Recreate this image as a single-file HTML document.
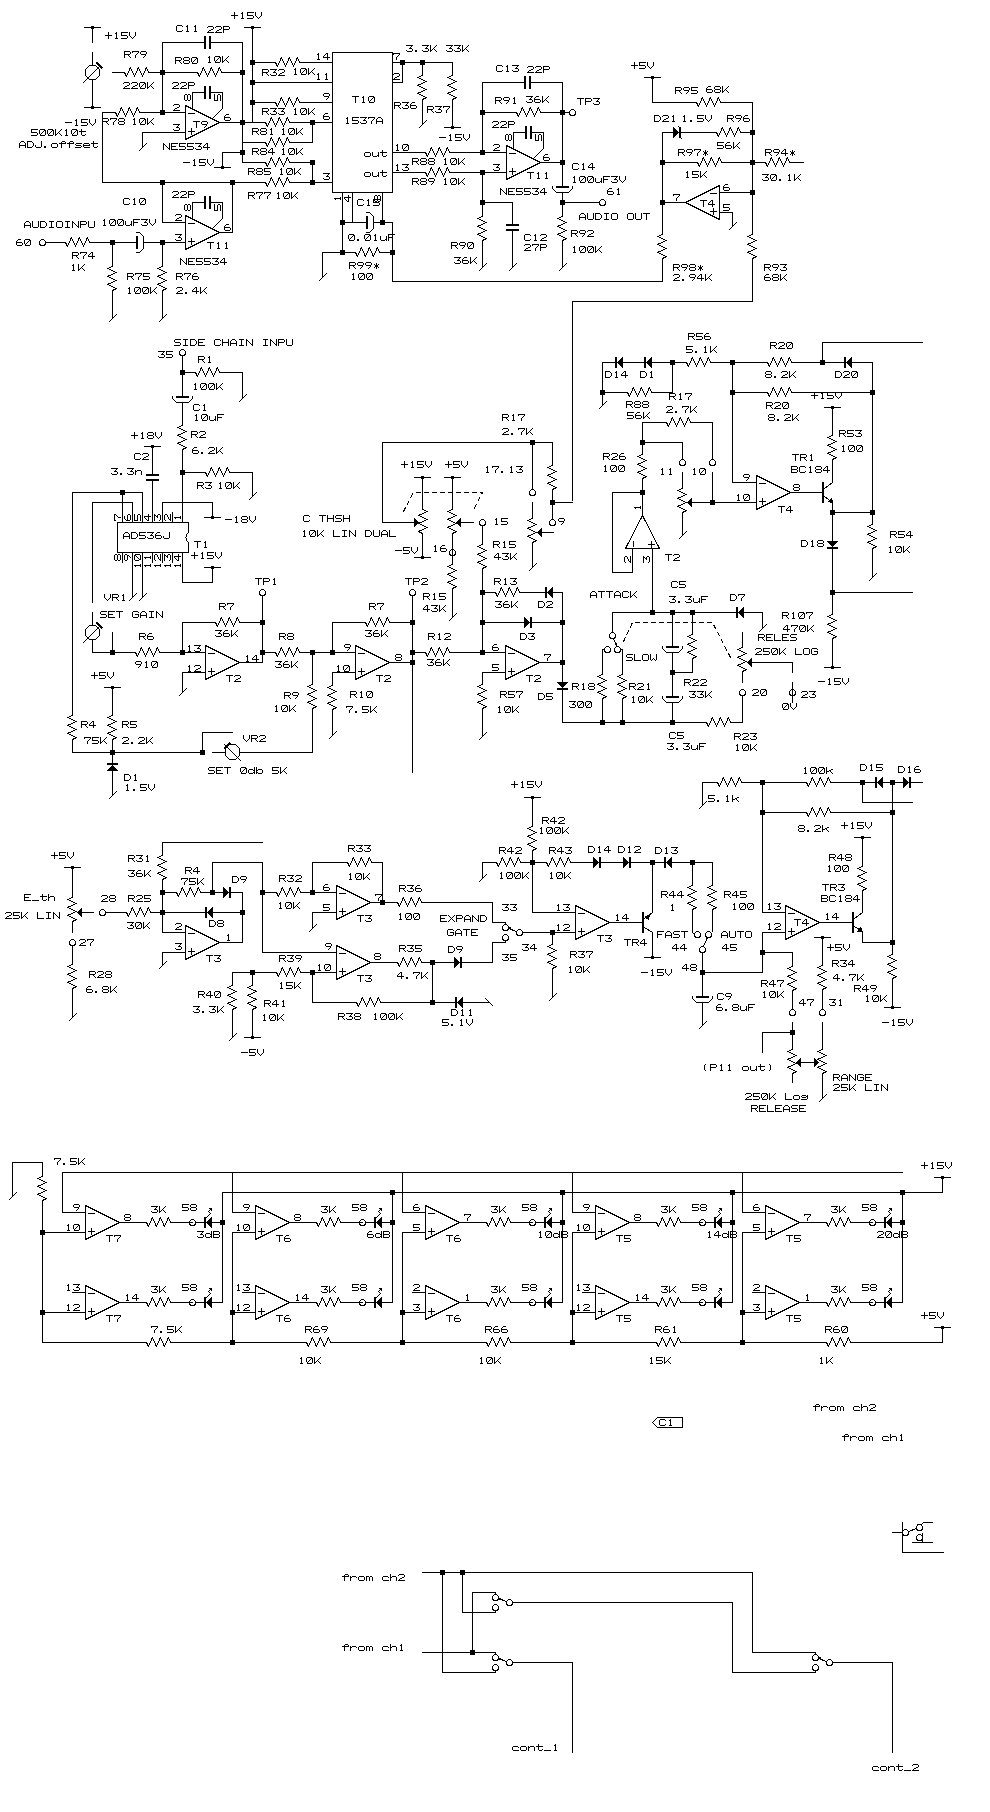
<!DOCTYPE html>
<html><head><meta charset="utf-8"><style>
html,body{margin:0;padding:0;background:#fff;}
svg{display:block;}
svg polyline,svg line,svg rect,svg polygon,svg circle,svg path{fill:none;stroke:#000;stroke-width:1;stroke-linecap:square;stroke-linejoin:round;}
svg .f,svg path.g,svg use{fill:#000;stroke:none;}
</style></head><body>
<svg width="990" height="1812" viewBox="0 0 990 1812" shape-rendering="crispEdges">
<defs><path class="g" id="g48" d="M1 0h5v1h-5zM0 1h1v1h-1zM5 1h2v1h-2zM0 2h1v1h-1zM4 2h1v1h-1zM6 2h1v1h-1zM0 3h1v1h-1zM3 3h1v1h-1zM6 3h1v1h-1zM0 4h1v1h-1zM2 4h1v1h-1zM6 4h1v1h-1zM1 5h1v1h-1zM6 5h1v1h-1zM1 6h5v1h-5z"/><path class="g" id="g49" d="M3 0h1v1h-1zM2 1h2v1h-2zM3 2h1v1h-1zM3 3h1v1h-1zM3 4h1v1h-1zM3 5h1v1h-1zM2 6h3v1h-3z"/><path class="g" id="g50" d="M1 0h5v1h-5zM0 1h1v1h-1zM6 1h1v1h-1zM6 2h1v1h-1zM4 3h2v1h-2zM2 4h2v1h-2zM1 5h1v1h-1zM0 6h7v1h-7z"/><path class="g" id="g51" d="M0 0h7v1h-7zM5 1h1v1h-1zM4 2h1v1h-1zM3 3h3v1h-3zM6 4h1v1h-1zM0 5h1v1h-1zM6 5h1v1h-1zM1 6h5v1h-5z"/><path class="g" id="g52" d="M3 0h2v1h-2zM2 1h1v1h-1zM4 1h1v1h-1zM1 2h1v1h-1zM4 2h1v1h-1zM0 3h1v1h-1zM4 3h1v1h-1zM0 4h7v1h-7zM4 5h1v1h-1zM4 6h1v1h-1z"/><path class="g" id="g53" d="M0 0h7v1h-7zM0 1h1v1h-1zM0 2h1v1h-1zM0 3h6v1h-6zM6 4h1v1h-1zM6 5h1v1h-1zM0 6h6v1h-6z"/><path class="g" id="g54" d="M2 0h3v1h-3zM1 1h1v1h-1zM0 2h1v1h-1zM0 3h6v1h-6zM0 4h1v1h-1zM6 4h1v1h-1zM0 5h1v1h-1zM6 5h1v1h-1zM1 6h5v1h-5z"/><path class="g" id="g55" d="M0 0h7v1h-7zM0 1h1v1h-1zM6 1h1v1h-1zM5 2h1v1h-1zM4 3h1v1h-1zM3 4h1v1h-1zM3 5h1v1h-1zM3 6h1v1h-1z"/><path class="g" id="g56" d="M1 0h5v1h-5zM0 1h1v1h-1zM6 1h1v1h-1zM0 2h1v1h-1zM6 2h1v1h-1zM1 3h5v1h-5zM0 4h1v1h-1zM6 4h1v1h-1zM0 5h1v1h-1zM6 5h1v1h-1zM1 6h5v1h-5z"/><path class="g" id="g57" d="M1 0h5v1h-5zM0 1h1v1h-1zM6 1h1v1h-1zM0 2h1v1h-1zM6 2h1v1h-1zM1 3h5v1h-5zM5 4h1v1h-1zM4 5h1v1h-1zM3 6h1v1h-1z"/><path class="g" id="g65" d="M2 0h3v1h-3zM1 1h1v1h-1zM5 1h1v1h-1zM0 2h1v1h-1zM6 2h1v1h-1zM0 3h1v1h-1zM6 3h1v1h-1zM0 4h7v1h-7zM0 5h1v1h-1zM6 5h1v1h-1zM0 6h1v1h-1zM6 6h1v1h-1z"/><path class="g" id="g66" d="M0 0h6v1h-6zM0 1h1v1h-1zM6 1h1v1h-1zM0 2h1v1h-1zM6 2h1v1h-1zM0 3h6v1h-6zM0 4h1v1h-1zM6 4h1v1h-1zM0 5h1v1h-1zM6 5h1v1h-1zM0 6h6v1h-6z"/><path class="g" id="g67" d="M1 0h5v1h-5zM0 1h1v1h-1zM6 1h1v1h-1zM0 2h1v1h-1zM0 3h1v1h-1zM0 4h1v1h-1zM0 5h1v1h-1zM6 5h1v1h-1zM1 6h5v1h-5z"/><path class="g" id="g68" d="M0 0h5v1h-5zM0 1h1v1h-1zM5 1h1v1h-1zM0 2h1v1h-1zM6 2h1v1h-1zM0 3h1v1h-1zM6 3h1v1h-1zM0 4h1v1h-1zM6 4h1v1h-1zM0 5h1v1h-1zM5 5h1v1h-1zM0 6h5v1h-5z"/><path class="g" id="g69" d="M0 0h7v1h-7zM0 1h1v1h-1zM0 2h1v1h-1zM0 3h5v1h-5zM0 4h1v1h-1zM0 5h1v1h-1zM0 6h7v1h-7z"/><path class="g" id="g70" d="M0 0h7v1h-7zM0 1h1v1h-1zM0 2h1v1h-1zM0 3h5v1h-5zM0 4h1v1h-1zM0 5h1v1h-1zM0 6h1v1h-1z"/><path class="g" id="g71" d="M1 0h5v1h-5zM0 1h1v1h-1zM6 1h1v1h-1zM0 2h1v1h-1zM0 3h1v1h-1zM3 3h4v1h-4zM0 4h1v1h-1zM6 4h1v1h-1zM0 5h1v1h-1zM6 5h1v1h-1zM1 6h5v1h-5z"/><path class="g" id="g72" d="M0 0h1v1h-1zM6 0h1v1h-1zM0 1h1v1h-1zM6 1h1v1h-1zM0 2h1v1h-1zM6 2h1v1h-1zM0 3h7v1h-7zM0 4h1v1h-1zM6 4h1v1h-1zM0 5h1v1h-1zM6 5h1v1h-1zM0 6h1v1h-1zM6 6h1v1h-1z"/><path class="g" id="g73" d="M1 0h5v1h-5zM3 1h1v1h-1zM3 2h1v1h-1zM3 3h1v1h-1zM3 4h1v1h-1zM3 5h1v1h-1zM1 6h5v1h-5z"/><path class="g" id="g74" d="M6 0h1v1h-1zM6 1h1v1h-1zM6 2h1v1h-1zM6 3h1v1h-1zM0 4h1v1h-1zM6 4h1v1h-1zM0 5h1v1h-1zM6 5h1v1h-1zM1 6h5v1h-5z"/><path class="g" id="g75" d="M0 0h1v1h-1zM6 0h1v1h-1zM0 1h1v1h-1zM5 1h1v1h-1zM0 2h1v1h-1zM4 2h1v1h-1zM0 3h1v1h-1zM3 3h1v1h-1zM0 4h1v1h-1zM2 4h1v1h-1zM4 4h1v1h-1zM0 5h2v1h-2zM5 5h1v1h-1zM0 6h1v1h-1zM6 6h1v1h-1z"/><path class="g" id="g76" d="M0 0h1v1h-1zM0 1h1v1h-1zM0 2h1v1h-1zM0 3h1v1h-1zM0 4h1v1h-1zM0 5h1v1h-1zM0 6h7v1h-7z"/><path class="g" id="g77" d="M0 0h1v1h-1zM6 0h1v1h-1zM0 1h2v1h-2zM5 1h2v1h-2zM0 2h1v1h-1zM2 2h1v1h-1zM4 2h1v1h-1zM6 2h1v1h-1zM0 3h1v1h-1zM3 3h1v1h-1zM6 3h1v1h-1zM0 4h1v1h-1zM6 4h1v1h-1zM0 5h1v1h-1zM6 5h1v1h-1zM0 6h1v1h-1zM6 6h1v1h-1z"/><path class="g" id="g78" d="M0 0h1v1h-1zM6 0h1v1h-1zM0 1h2v1h-2zM6 1h1v1h-1zM0 2h1v1h-1zM2 2h1v1h-1zM6 2h1v1h-1zM0 3h1v1h-1zM3 3h1v1h-1zM6 3h1v1h-1zM0 4h1v1h-1zM4 4h1v1h-1zM6 4h1v1h-1zM0 5h1v1h-1zM5 5h2v1h-2zM0 6h1v1h-1zM6 6h1v1h-1z"/><path class="g" id="g79" d="M1 0h5v1h-5zM0 1h1v1h-1zM6 1h1v1h-1zM0 2h1v1h-1zM6 2h1v1h-1zM0 3h1v1h-1zM6 3h1v1h-1zM0 4h1v1h-1zM6 4h1v1h-1zM0 5h1v1h-1zM6 5h1v1h-1zM1 6h5v1h-5z"/><path class="g" id="g80" d="M0 0h6v1h-6zM0 1h1v1h-1zM6 1h1v1h-1zM0 2h1v1h-1zM6 2h1v1h-1zM0 3h6v1h-6zM0 4h1v1h-1zM0 5h1v1h-1zM0 6h1v1h-1z"/><path class="g" id="g82" d="M0 0h6v1h-6zM0 1h1v1h-1zM6 1h1v1h-1zM0 2h1v1h-1zM6 2h1v1h-1zM0 3h6v1h-6zM0 4h1v1h-1zM4 4h1v1h-1zM0 5h1v1h-1zM5 5h1v1h-1zM0 6h1v1h-1zM6 6h1v1h-1z"/><path class="g" id="g83" d="M1 0h6v1h-6zM0 1h1v1h-1zM0 2h1v1h-1zM1 3h5v1h-5zM6 4h1v1h-1zM6 5h1v1h-1zM0 6h6v1h-6z"/><path class="g" id="g84" d="M0 0h7v1h-7zM3 1h1v1h-1zM3 2h1v1h-1zM3 3h1v1h-1zM3 4h1v1h-1zM3 5h1v1h-1zM3 6h1v1h-1z"/><path class="g" id="g85" d="M0 0h1v1h-1zM6 0h1v1h-1zM0 1h1v1h-1zM6 1h1v1h-1zM0 2h1v1h-1zM6 2h1v1h-1zM0 3h1v1h-1zM6 3h1v1h-1zM0 4h1v1h-1zM6 4h1v1h-1zM0 5h1v1h-1zM6 5h1v1h-1zM1 6h5v1h-5z"/><path class="g" id="g86" d="M0 0h1v1h-1zM6 0h1v1h-1zM0 1h1v1h-1zM6 1h1v1h-1zM0 2h1v1h-1zM6 2h1v1h-1zM0 3h1v1h-1zM6 3h1v1h-1zM1 4h1v1h-1zM5 4h1v1h-1zM2 5h1v1h-1zM4 5h1v1h-1zM3 6h1v1h-1z"/><path class="g" id="g87" d="M0 0h1v1h-1zM6 0h1v1h-1zM0 1h1v1h-1zM6 1h1v1h-1zM0 2h1v1h-1zM6 2h1v1h-1zM0 3h1v1h-1zM6 3h1v1h-1zM0 4h1v1h-1zM3 4h1v1h-1zM6 4h1v1h-1zM0 5h1v1h-1zM2 5h1v1h-1zM4 5h1v1h-1zM6 5h1v1h-1zM1 6h1v1h-1zM5 6h1v1h-1z"/><path class="g" id="g88" d="M0 0h1v1h-1zM6 0h1v1h-1zM1 1h1v1h-1zM5 1h1v1h-1zM2 2h1v1h-1zM4 2h1v1h-1zM3 3h1v1h-1zM2 4h1v1h-1zM4 4h1v1h-1zM1 5h1v1h-1zM5 5h1v1h-1zM0 6h1v1h-1zM6 6h1v1h-1z"/><path class="g" id="g43" d="M3 0h1v1h-1zM3 1h1v1h-1zM3 2h1v1h-1zM0 3h7v1h-7zM3 4h1v1h-1zM3 5h1v1h-1zM3 6h1v1h-1z"/><path class="g" id="g45" d="M0 3h7v1h-7z"/><path class="g" id="g46" d="M1 5h2v1h-2zM1 6h2v1h-2z"/><path class="g" id="g42" d="M3 1h1v1h-1zM1 2h1v1h-1zM3 2h1v1h-1zM5 2h1v1h-1zM2 3h3v1h-3zM2 4h3v1h-3zM1 5h1v1h-1zM3 5h1v1h-1zM5 5h1v1h-1zM3 6h1v1h-1z"/><path class="g" id="g95" d="M0 6h7v1h-7z"/><path class="g" id="g40" d="M3 0h1v1h-1zM2 1h1v1h-1zM2 2h1v1h-1zM2 3h1v1h-1zM2 4h1v1h-1zM2 5h1v1h-1zM3 6h1v1h-1z"/><path class="g" id="g41" d="M3 0h1v1h-1zM4 1h1v1h-1zM4 2h1v1h-1zM4 3h1v1h-1zM4 4h1v1h-1zM4 5h1v1h-1zM3 6h1v1h-1z"/><path class="g" id="g98" d="M0 0h1v1h-1zM0 1h1v1h-1zM0 2h1v1h-1zM2 2h4v1h-4zM0 3h2v1h-2zM6 3h1v1h-1zM0 4h1v1h-1zM6 4h1v1h-1zM0 5h2v1h-2zM6 5h1v1h-1zM0 6h1v1h-1zM2 6h4v1h-4z"/><path class="g" id="g99" d="M1 2h5v1h-5zM0 3h1v1h-1zM6 3h1v1h-1zM0 4h1v1h-1zM0 5h1v1h-1zM1 6h6v1h-6z"/><path class="g" id="g100" d="M6 0h1v1h-1zM6 1h1v1h-1zM1 2h4v1h-4zM6 2h1v1h-1zM0 3h1v1h-1zM5 3h2v1h-2zM0 4h1v1h-1zM6 4h1v1h-1zM0 5h1v1h-1zM5 5h2v1h-2zM1 6h4v1h-4zM6 6h1v1h-1z"/><path class="g" id="g101" d="M1 2h5v1h-5zM0 3h1v1h-1zM6 3h1v1h-1zM0 4h7v1h-7zM0 5h1v1h-1zM1 6h6v1h-6z"/><path class="g" id="g102" d="M3 0h3v1h-3zM2 1h1v1h-1zM6 1h1v1h-1zM0 2h7v1h-7zM2 3h1v1h-1zM2 4h1v1h-1zM2 5h1v1h-1zM2 6h1v1h-1z"/><path class="g" id="g103" d="M1 2h4v1h-4zM6 2h1v1h-1zM0 3h1v1h-1zM5 3h2v1h-2zM1 4h4v1h-4zM6 4h1v1h-1zM6 5h1v1h-1zM0 6h6v1h-6z"/><path class="g" id="g104" d="M0 0h1v1h-1zM0 1h1v1h-1zM0 2h1v1h-1zM2 2h4v1h-4zM0 3h2v1h-2zM6 3h1v1h-1zM0 4h1v1h-1zM6 4h1v1h-1zM0 5h1v1h-1zM6 5h1v1h-1zM0 6h1v1h-1zM6 6h1v1h-1z"/><path class="g" id="g107" d="M0 0h1v1h-1zM0 1h1v1h-1zM0 2h1v1h-1zM5 2h2v1h-2zM0 3h1v1h-1zM3 3h2v1h-2zM0 4h3v1h-3zM4 4h1v1h-1zM0 5h1v1h-1zM5 5h1v1h-1zM0 6h1v1h-1zM6 6h1v1h-1z"/><path class="g" id="g109" d="M0 2h3v1h-3zM4 2h2v1h-2zM0 3h1v1h-1zM3 3h1v1h-1zM6 3h1v1h-1zM0 4h1v1h-1zM3 4h1v1h-1zM6 4h1v1h-1zM0 5h1v1h-1zM3 5h1v1h-1zM6 5h1v1h-1zM0 6h1v1h-1zM3 6h1v1h-1zM6 6h1v1h-1z"/><path class="g" id="g110" d="M0 2h1v1h-1zM2 2h4v1h-4zM0 3h2v1h-2zM6 3h1v1h-1zM0 4h1v1h-1zM6 4h1v1h-1zM0 5h1v1h-1zM6 5h1v1h-1zM0 6h1v1h-1zM6 6h1v1h-1z"/><path class="g" id="g111" d="M1 2h5v1h-5zM0 3h1v1h-1zM6 3h1v1h-1zM0 4h1v1h-1zM6 4h1v1h-1zM0 5h1v1h-1zM6 5h1v1h-1zM1 6h5v1h-5z"/><path class="g" id="g114" d="M0 2h1v1h-1zM2 2h4v1h-4zM0 3h2v1h-2zM6 3h1v1h-1zM0 4h1v1h-1zM0 5h1v1h-1zM0 6h1v1h-1z"/><path class="g" id="g115" d="M1 2h6v1h-6zM0 3h1v1h-1zM1 4h5v1h-5zM6 5h1v1h-1zM0 6h6v1h-6z"/><path class="g" id="g116" d="M2 0h1v1h-1zM2 1h1v1h-1zM0 2h7v1h-7zM2 3h1v1h-1zM2 4h1v1h-1zM2 5h1v1h-1zM6 5h1v1h-1zM3 6h3v1h-3z"/><path class="g" id="g117" d="M0 2h1v1h-1zM6 2h1v1h-1zM0 3h1v1h-1zM6 3h1v1h-1zM0 4h1v1h-1zM6 4h1v1h-1zM0 5h1v1h-1zM5 5h2v1h-2zM1 6h4v1h-4zM6 6h1v1h-1z"/></defs>
<polyline points="84.5,27.5 100.5,27.5"/>
<circle class="f" cx="92.5" cy="27.5" r="1.8"/>
<polyline points="92.5,27.5 92.5,42.5"/>
<polyline points="92.5,52.5 92.5,65.5"/>
<polygon points="89.5,65.5 95.5,65.5 99.5,69.5 99.5,75.5 95.5,79.5 89.5,79.5 85.5,75.5 85.5,69.5"/>
<line x1="83.5" y1="82.5" x2="98.5" y2="67.5"/>
<polygon class="f" points="95.5,63 97,61.5 103,67.5 101.5,69"/>
<polyline points="92.5,79.5 92.5,107.5"/>
<polyline points="84.5,107.5 100.5,107.5"/>
<circle class="f" cx="92.5" cy="107.5" r="1.8"/>
<use href="#g43" x="105" y="32"/><use href="#g49" x="113" y="32"/><use href="#g53" x="121" y="32"/><use href="#g86" x="129" y="32"/>
<polyline points="112.5,72.5 124.5,72.5"/>
<polyline points="124.5,72.5 126.5,76.5 130.5,67.5 134.5,76.5 138.5,67.5 142.5,76.5 146.5,67.5 148.5,72.5"/>
<polyline points="148.5,72.5 162.5,72.5"/>
<use href="#g82" x="124" y="51"/><use href="#g55" x="132" y="51"/><use href="#g57" x="140" y="51"/>
<use href="#g50" x="123" y="82"/><use href="#g50" x="131" y="82"/><use href="#g48" x="139" y="82"/><use href="#g75" x="147" y="82"/>
<rect class="f" x="160" y="70" width="5" height="5"/>
<polyline points="162.5,42.5 162.5,112.5"/>
<polyline points="162.5,42.5 204.5,42.5"/>
<rect class="f" x="204" y="36" width="2" height="13"/>
<rect class="f" x="209" y="36" width="2" height="13"/>
<polyline points="211.5,42.5 242.5,42.5 242.5,152.5"/>
<use href="#g67" x="176" y="25"/><use href="#g49" x="184" y="25"/><use href="#g49" x="192" y="25"/>
<use href="#g50" x="207" y="26"/><use href="#g50" x="215" y="26"/><use href="#g80" x="223" y="26"/>
<polyline points="162.5,72.5 197.5,72.5"/>
<polyline points="197.5,72.5 199.5,76.5 203.5,67.5 207.5,76.5 211.5,67.5 215.5,76.5 219.5,67.5 221.5,72.5"/>
<polyline points="221.5,72.5 242.5,72.5"/>
<use href="#g82" x="175" y="57"/><use href="#g56" x="183" y="57"/><use href="#g48" x="191" y="57"/>
<use href="#g49" x="206" y="56"/><use href="#g48" x="214" y="56"/><use href="#g75" x="222" y="56"/>
<rect class="f" x="240" y="70" width="5" height="5"/>
<rect class="f" x="240" y="120" width="5" height="5"/>
<rect class="f" x="240" y="150" width="5" height="5"/>
<use href="#g50" x="172" y="82"/><use href="#g50" x="180" y="82"/><use href="#g80" x="188" y="82"/>
<polyline points="192.5,108.5 192.5,92.5 204.5,92.5"/>
<rect class="f" x="204" y="86" width="2" height="13"/>
<rect class="f" x="209" y="86" width="2" height="13"/>
<polyline points="211.5,92.5 222.5,92.5 222.5,108.5 212.5,118.5"/>
<g transform="translate(191,101) rotate(-90)"><use href="#g56" x="0" y="-7"/></g>
<g transform="translate(221,101) rotate(-90)"><use href="#g53" x="0" y="-7"/></g>
<polyline points="185.5,105.5 185.5,139.5 219.5,122.5 185.5,105.5"/>
<polyline points="188.5,113.5 194.5,113.5"/>
<polyline points="188.5,131.5 194.5,131.5"/>
<polyline points="191.5,128.5 191.5,134.5"/>
<use href="#g50" x="173" y="104"/>
<use href="#g51" x="173" y="124"/>
<use href="#g54" x="224" y="114"/>
<use href="#g84" x="193" y="121"/><use href="#g57" x="201" y="121"/>
<use href="#g78" x="163" y="143"/><use href="#g69" x="171" y="143"/><use href="#g53" x="179" y="143"/><use href="#g53" x="187" y="143"/><use href="#g51" x="195" y="143"/><use href="#g52" x="203" y="143"/>
<polyline points="219.5,122.5 242.5,122.5"/>
<polyline points="102.5,112.5 115.5,112.5"/>
<polyline points="115.5,112.5 117.5,116.5 121.5,107.5 125.5,116.5 129.5,107.5 133.5,116.5 137.5,107.5 139.5,112.5"/>
<polyline points="139.5,112.5 185.5,112.5"/>
<rect class="f" x="160" y="110" width="5" height="5"/>
<polyline points="102.5,112.5 102.5,182.5"/>
<use href="#g45" x="65" y="119"/><use href="#g49" x="73" y="119"/><use href="#g53" x="81" y="119"/><use href="#g86" x="89" y="119"/>
<use href="#g82" x="102" y="118"/><use href="#g55" x="110" y="118"/><use href="#g56" x="118" y="118"/>
<use href="#g49" x="131" y="118"/><use href="#g48" x="139" y="118"/><use href="#g75" x="147" y="118"/>
<use href="#g53" x="31" y="129"/><use href="#g48" x="39" y="129"/><use href="#g48" x="47" y="129"/><use href="#g75" x="55" y="129"/><use href="#g49" x="63" y="129"/><use href="#g48" x="71" y="129"/><use href="#g116" x="79" y="129"/>
<use href="#g65" x="19" y="141"/><use href="#g68" x="27" y="141"/><use href="#g74" x="35" y="141"/><use href="#g46" x="43" y="141"/><use href="#g111" x="51" y="141"/><use href="#g102" x="59" y="141"/><use href="#g102" x="67" y="141"/><use href="#g115" x="75" y="141"/><use href="#g101" x="83" y="141"/><use href="#g116" x="91" y="141"/>
<polyline points="185.5,132.5 142.5,132.5 142.5,147.5"/>
<line x1="139.0" y1="151.0" x2="146.5" y2="143.5"/>
<use href="#g43" x="231" y="12"/><use href="#g49" x="239" y="12"/><use href="#g53" x="247" y="12"/><use href="#g86" x="255" y="12"/>
<polyline points="244.5,27.5 260.5,27.5"/>
<circle class="f" cx="252.5" cy="27.5" r="1.8"/>
<polyline points="252.5,27.5 252.5,122.5"/>
<rect class="f" x="250" y="60" width="5" height="5"/>
<rect class="f" x="250" y="80" width="5" height="5"/>
<rect class="f" x="250" y="100" width="5" height="5"/>
<polyline points="252.5,62.5 275.5,62.5"/>
<polyline points="275.5,62.5 277.5,66.5 281.5,57.5 285.5,66.5 289.5,57.5 293.5,66.5 297.5,57.5 299.5,62.5"/>
<polyline points="299.5,62.5 332.5,62.5"/>
<use href="#g82" x="262" y="69"/><use href="#g51" x="270" y="69"/><use href="#g50" x="278" y="69"/>
<use href="#g49" x="292" y="68"/><use href="#g48" x="300" y="68"/><use href="#g75" x="308" y="68"/>
<use href="#g49" x="315" y="53"/><use href="#g52" x="323" y="53"/>
<polyline points="252.5,82.5 332.5,82.5"/>
<use href="#g49" x="315" y="73"/><use href="#g49" x="323" y="73"/>
<polyline points="252.5,102.5 275.5,102.5"/>
<polyline points="275.5,102.5 277.5,106.5 281.5,97.5 285.5,106.5 289.5,97.5 293.5,106.5 297.5,97.5 299.5,102.5"/>
<polyline points="299.5,102.5 332.5,102.5"/>
<use href="#g82" x="262" y="108"/><use href="#g51" x="270" y="108"/><use href="#g51" x="278" y="108"/>
<use href="#g49" x="292" y="108"/><use href="#g48" x="300" y="108"/><use href="#g75" x="308" y="108"/>
<use href="#g57" x="323" y="93"/>
<polyline points="242.5,122.5 265.5,122.5"/>
<polyline points="265.5,122.5 267.5,126.5 271.5,117.5 275.5,126.5 279.5,117.5 283.5,126.5 287.5,117.5 289.5,122.5"/>
<polyline points="289.5,122.5 332.5,122.5"/>
<rect class="f" x="310" y="120" width="5" height="5"/>
<use href="#g54" x="323" y="113"/>
<use href="#g82" x="252" y="128"/><use href="#g56" x="260" y="128"/><use href="#g49" x="268" y="128"/>
<use href="#g49" x="280" y="128"/><use href="#g48" x="288" y="128"/><use href="#g75" x="296" y="128"/>
<polyline points="312.5,122.5 312.5,142.5"/>
<polyline points="242.5,142.5 265.5,142.5"/>
<polyline points="265.5,142.5 267.5,146.5 271.5,137.5 275.5,146.5 279.5,137.5 283.5,146.5 287.5,137.5 289.5,142.5"/>
<polyline points="289.5,142.5 312.5,142.5"/>
<polyline points="242.5,142.5 242.5,162.5"/>
<polyline points="242.5,162.5 265.5,162.5"/>
<polyline points="265.5,162.5 267.5,166.5 271.5,157.5 275.5,166.5 279.5,157.5 283.5,166.5 287.5,157.5 289.5,162.5"/>
<polyline points="289.5,162.5 312.5,162.5"/>
<rect class="f" x="240" y="150" width="5" height="5"/>
<rect class="f" x="310" y="160" width="5" height="5"/>
<polyline points="312.5,162.5 312.5,182.5"/>
<rect class="f" x="310" y="180" width="5" height="5"/>
<polyline points="242.5,152.5 222.5,152.5 222.5,167.5"/>
<polyline points="214.5,167.5 230.5,167.5"/>
<circle class="f" cx="222.5" cy="167.5" r="1.8"/>
<use href="#g45" x="183" y="159"/><use href="#g49" x="191" y="159"/><use href="#g53" x="199" y="159"/><use href="#g86" x="207" y="159"/>
<use href="#g82" x="252" y="148"/><use href="#g56" x="260" y="148"/><use href="#g52" x="268" y="148"/>
<use href="#g49" x="280" y="148"/><use href="#g48" x="288" y="148"/><use href="#g75" x="296" y="148"/>
<use href="#g82" x="248" y="168"/><use href="#g56" x="256" y="168"/><use href="#g53" x="264" y="168"/>
<use href="#g49" x="278" y="168"/><use href="#g48" x="286" y="168"/><use href="#g75" x="294" y="168"/>
<polyline points="102.5,182.5 265.5,182.5"/>
<polyline points="265.5,182.5 267.5,186.5 271.5,177.5 275.5,186.5 279.5,177.5 283.5,186.5 287.5,177.5 289.5,182.5"/>
<polyline points="289.5,182.5 332.5,182.5"/>
<rect class="f" x="160" y="180" width="5" height="5"/>
<rect class="f" x="230" y="180" width="5" height="5"/>
<use href="#g51" x="323" y="173"/>
<use href="#g82" x="248" y="192"/><use href="#g55" x="256" y="192"/><use href="#g55" x="264" y="192"/>
<use href="#g49" x="275" y="192"/><use href="#g48" x="283" y="192"/><use href="#g75" x="291" y="192"/>
<rect x="332.5" y="52.5" width="60" height="140"/>
<use href="#g84" x="352" y="96"/><use href="#g49" x="360" y="96"/><use href="#g48" x="368" y="96"/>
<use href="#g49" x="344" y="117"/><use href="#g53" x="352" y="117"/><use href="#g51" x="360" y="117"/><use href="#g55" x="368" y="117"/><use href="#g65" x="376" y="117"/>
<use href="#g111" x="364" y="150"/><use href="#g117" x="372" y="150"/><use href="#g116" x="380" y="150"/>
<use href="#g111" x="364" y="170"/><use href="#g117" x="372" y="170"/><use href="#g116" x="380" y="170"/>
<use href="#g55" x="393" y="53"/>
<use href="#g50" x="393" y="73"/>
<use href="#g49" x="394" y="144"/><use href="#g48" x="402" y="144"/>
<use href="#g49" x="394" y="164"/><use href="#g51" x="402" y="164"/>
<polyline points="392.5,62.5 452.5,62.5"/>
<rect class="f" x="400" y="60" width="5" height="5"/>
<rect class="f" x="420" y="60" width="5" height="5"/>
<polyline points="392.5,82.5 402.5,82.5 402.5,62.5"/>
<polyline points="422.5,62.5 422.5,75.5"/>
<polyline points="422.5,75.5 417.5,77.5 426.5,81.5 417.5,85.5 426.5,89.5 417.5,93.5 426.5,97.5 422.5,99.5"/>
<polyline points="422.5,99.5 422.5,124.5"/>
<line x1="419.0" y1="128.0" x2="426.5" y2="120.5"/>
<polyline points="452.5,62.5 452.5,75.5"/>
<polyline points="452.5,75.5 447.5,77.5 456.5,81.5 447.5,85.5 456.5,89.5 447.5,93.5 456.5,97.5 452.5,99.5"/>
<polyline points="452.5,99.5 452.5,127.5"/>
<polyline points="444.5,127.5 460.5,127.5"/>
<circle class="f" cx="452.5" cy="127.5" r="1.8"/>
<use href="#g82" x="394" y="102"/><use href="#g51" x="402" y="102"/><use href="#g54" x="410" y="102"/>
<use href="#g82" x="427" y="106"/><use href="#g51" x="435" y="106"/><use href="#g55" x="443" y="106"/>
<use href="#g51" x="406" y="45"/><use href="#g46" x="414" y="45"/><use href="#g51" x="422" y="45"/><use href="#g75" x="430" y="45"/><use href="#g51" x="446" y="45"/><use href="#g51" x="454" y="45"/><use href="#g75" x="462" y="45"/>
<use href="#g45" x="439" y="134"/><use href="#g49" x="447" y="134"/><use href="#g53" x="455" y="134"/><use href="#g86" x="463" y="134"/>
<polyline points="392.5,152.5 425.5,152.5"/>
<polyline points="425.5,152.5 427.5,156.5 431.5,147.5 435.5,156.5 439.5,147.5 443.5,156.5 447.5,147.5 449.5,152.5"/>
<polyline points="449.5,152.5 506.5,152.5"/>
<rect class="f" x="480" y="150" width="5" height="5"/>
<use href="#g82" x="412" y="158"/><use href="#g56" x="420" y="158"/><use href="#g56" x="428" y="158"/>
<use href="#g49" x="442" y="158"/><use href="#g48" x="450" y="158"/><use href="#g75" x="458" y="158"/>
<polyline points="392.5,172.5 425.5,172.5"/>
<polyline points="425.5,172.5 427.5,176.5 431.5,167.5 435.5,176.5 439.5,167.5 443.5,176.5 447.5,167.5 449.5,172.5"/>
<polyline points="449.5,172.5 506.5,172.5"/>
<rect class="f" x="480" y="170" width="5" height="5"/>
<use href="#g82" x="412" y="178"/><use href="#g56" x="420" y="178"/><use href="#g57" x="428" y="178"/>
<use href="#g49" x="442" y="178"/><use href="#g48" x="450" y="178"/><use href="#g75" x="458" y="178"/>
<polyline points="342.5,192.5 342.5,252.5"/>
<polyline points="352.5,192.5 352.5,222.5"/>
<polyline points="382.5,192.5 382.5,222.5"/>
<g transform="translate(341,202) rotate(-90)"><use href="#g49" x="0" y="-7"/></g>
<g transform="translate(351,202) rotate(-90)"><use href="#g52" x="0" y="-7"/></g>
<g transform="translate(381,202) rotate(-90)"><use href="#g56" x="0" y="-7"/></g>
<polyline points="342.5,222.5 366.5,222.5"/>
<rect class="f" x="340" y="220" width="5" height="5"/>
<rect class="f" x="366" y="216" width="2" height="13"/>
<polyline points="366.5,212.5 369.5,212.5 373.5,216.5 373.5,228.5 369.5,232.5 366.5,232.5"/>
<polyline points="373.5,222.5 392.5,222.5"/>
<rect class="f" x="380" y="220" width="5" height="5"/>
<polyline points="392.5,222.5 392.5,281.5 662.5,281.5"/>
<rect class="f" x="390" y="250" width="5" height="5"/>
<polyline points="342.5,252.5 355.5,252.5"/>
<polyline points="355.5,252.5 357.5,256.5 361.5,247.5 365.5,256.5 369.5,247.5 373.5,256.5 377.5,247.5 379.5,252.5"/>
<polyline points="379.5,252.5 392.5,252.5"/>
<rect class="f" x="340" y="250" width="5" height="5"/>
<polyline points="342.5,252.5 322.5,252.5 322.5,277.5"/>
<line x1="319.0" y1="281.0" x2="326.5" y2="273.5"/>
<use href="#g67" x="357" y="199"/><use href="#g49" x="365" y="199"/><use href="#g53" x="373" y="199"/>
<use href="#g48" x="348" y="234"/><use href="#g46" x="356" y="234"/><use href="#g48" x="364" y="234"/><use href="#g49" x="372" y="234"/><use href="#g117" x="380" y="234"/><use href="#g70" x="388" y="234"/>
<use href="#g82" x="349" y="262"/><use href="#g57" x="357" y="262"/><use href="#g57" x="365" y="262"/><use href="#g42" x="373" y="262"/>
<use href="#g49" x="350" y="273"/><use href="#g48" x="358" y="273"/><use href="#g48" x="366" y="273"/>
<polyline points="513.5,148.5 513.5,132.5 525.5,132.5"/>
<rect class="f" x="525" y="126" width="2" height="13"/>
<rect class="f" x="530" y="126" width="2" height="13"/>
<polyline points="532.5,132.5 543.5,132.5 543.5,148.5 533.5,158.5"/>
<g transform="translate(512,141) rotate(-90)"><use href="#g56" x="0" y="-7"/></g>
<g transform="translate(542,141) rotate(-90)"><use href="#g53" x="0" y="-7"/></g>
<polyline points="506.5,145.5 506.5,179.5 540.5,162.5 506.5,145.5"/>
<polyline points="509.5,153.5 515.5,153.5"/>
<polyline points="509.5,171.5 515.5,171.5"/>
<polyline points="512.5,168.5 512.5,174.5"/>
<use href="#g50" x="493" y="144"/>
<use href="#g51" x="493" y="164"/>
<use href="#g54" x="543" y="154"/>
<use href="#g84" x="527" y="172"/><use href="#g49" x="535" y="172"/><use href="#g49" x="543" y="172"/>
<use href="#g78" x="500" y="188"/><use href="#g69" x="508" y="188"/><use href="#g53" x="516" y="188"/><use href="#g53" x="524" y="188"/><use href="#g51" x="532" y="188"/><use href="#g52" x="540" y="188"/>
<polyline points="539.5,162.5 562.5,162.5"/>
<rect class="f" x="560" y="160" width="5" height="5"/>
<polyline points="482.5,112.5 482.5,82.5 524.5,82.5"/>
<rect class="f" x="524" y="76" width="2" height="13"/>
<rect class="f" x="529" y="76" width="2" height="13"/>
<polyline points="531.5,82.5 562.5,82.5 562.5,186.5"/>
<use href="#g67" x="496" y="65"/><use href="#g49" x="504" y="65"/><use href="#g51" x="512" y="65"/>
<use href="#g50" x="527" y="66"/><use href="#g50" x="535" y="66"/><use href="#g80" x="543" y="66"/>
<polyline points="482.5,112.5 516.5,112.5"/>
<polyline points="516.5,112.5 518.5,116.5 522.5,107.5 526.5,116.5 530.5,107.5 534.5,116.5 538.5,107.5 540.5,112.5"/>
<polyline points="540.5,112.5 562.5,112.5"/>
<rect class="f" x="480" y="110" width="5" height="5"/>
<rect class="f" x="560" y="110" width="5" height="5"/>
<polyline points="562.5,112.5 569.5,112.5"/>
<circle cx="572.5" cy="112.5" r="3"/>
<use href="#g82" x="495" y="97"/><use href="#g57" x="503" y="97"/><use href="#g49" x="511" y="97"/>
<use href="#g51" x="526" y="96"/><use href="#g54" x="534" y="96"/><use href="#g75" x="542" y="96"/>
<use href="#g84" x="577" y="98"/><use href="#g80" x="585" y="98"/><use href="#g51" x="593" y="98"/>
<use href="#g50" x="492" y="121"/><use href="#g50" x="500" y="121"/><use href="#g80" x="508" y="121"/>
<polyline points="482.5,112.5 482.5,152.5"/>
<polyline points="482.5,172.5 482.5,202.5"/>
<polyline points="482.5,202.5 482.5,216.5"/>
<polyline points="482.5,216.5 477.5,218.5 486.5,222.5 477.5,226.5 486.5,230.5 477.5,234.5 486.5,238.5 482.5,240.5"/>
<polyline points="482.5,240.5 482.5,267.5"/>
<line x1="479.0" y1="271.0" x2="486.5" y2="263.5"/>
<rect class="f" x="480" y="200" width="5" height="5"/>
<polyline points="482.5,202.5 512.5,202.5 512.5,224.5"/>
<rect class="f" x="506" y="224" width="13" height="2"/>
<rect class="f" x="506" y="229" width="13" height="2"/>
<polyline points="512.5,231.5 512.5,267.5"/>
<line x1="509.0" y1="271.0" x2="516.5" y2="263.5"/>
<use href="#g82" x="451" y="242"/><use href="#g57" x="459" y="242"/><use href="#g48" x="467" y="242"/>
<use href="#g51" x="454" y="257"/><use href="#g54" x="462" y="257"/><use href="#g75" x="470" y="257"/>
<use href="#g67" x="524" y="234"/><use href="#g49" x="532" y="234"/><use href="#g50" x="540" y="234"/>
<use href="#g50" x="524" y="244"/><use href="#g55" x="532" y="244"/><use href="#g80" x="540" y="244"/>
<rect class="f" x="556" y="186" width="13" height="2"/>
<polyline points="552.5,186.5 552.5,188.5 556.5,192.5 568.5,192.5 572.5,188.5 572.5,186.5"/>
<polyline points="562.5,192.5 562.5,202.5"/>
<rect class="f" x="560" y="200" width="5" height="5"/>
<polyline points="562.5,202.5 562.5,216.5"/>
<polyline points="562.5,216.5 557.5,218.5 566.5,222.5 557.5,226.5 566.5,230.5 557.5,234.5 566.5,238.5 562.5,240.5"/>
<polyline points="562.5,240.5 562.5,267.5"/>
<line x1="559.0" y1="271.0" x2="566.5" y2="263.5"/>
<polyline points="562.5,202.5 599.5,202.5"/>
<circle cx="602.5" cy="202.5" r="3"/>
<use href="#g67" x="572" y="163"/><use href="#g49" x="580" y="163"/><use href="#g52" x="588" y="163"/>
<use href="#g49" x="571" y="176"/><use href="#g48" x="579" y="176"/><use href="#g48" x="587" y="176"/><use href="#g117" x="595" y="176"/><use href="#g70" x="603" y="176"/><use href="#g51" x="611" y="176"/><use href="#g86" x="619" y="176"/>
<use href="#g54" x="607" y="188"/><use href="#g49" x="615" y="188"/>
<use href="#g65" x="579" y="213"/><use href="#g85" x="587" y="213"/><use href="#g68" x="595" y="213"/><use href="#g73" x="603" y="213"/><use href="#g79" x="611" y="213"/><use href="#g79" x="627" y="213"/><use href="#g85" x="635" y="213"/><use href="#g84" x="643" y="213"/>
<use href="#g82" x="571" y="230"/><use href="#g57" x="579" y="230"/><use href="#g50" x="587" y="230"/>
<use href="#g49" x="571" y="246"/><use href="#g48" x="579" y="246"/><use href="#g48" x="587" y="246"/><use href="#g75" x="595" y="246"/>
<polyline points="162.5,182.5 162.5,222.5"/>
<polyline points="162.5,222.5 185.5,222.5"/>
<polyline points="232.5,182.5 232.5,232.5 219.5,232.5"/>
<polyline points="192.5,218.5 192.5,202.5 204.5,202.5"/>
<rect class="f" x="204" y="196" width="2" height="13"/>
<rect class="f" x="209" y="196" width="2" height="13"/>
<polyline points="211.5,202.5 222.5,202.5 222.5,218.5 212.5,228.5"/>
<g transform="translate(191,211) rotate(-90)"><use href="#g56" x="0" y="-7"/></g>
<g transform="translate(221,211) rotate(-90)"><use href="#g53" x="0" y="-7"/></g>
<polyline points="185.5,215.5 185.5,249.5 219.5,232.5 185.5,215.5"/>
<polyline points="188.5,223.5 194.5,223.5"/>
<polyline points="188.5,241.5 194.5,241.5"/>
<polyline points="191.5,238.5 191.5,244.5"/>
<use href="#g50" x="172" y="191"/><use href="#g50" x="180" y="191"/><use href="#g80" x="188" y="191"/>
<use href="#g50" x="175" y="214"/>
<use href="#g51" x="175" y="234"/>
<use href="#g54" x="224" y="224"/>
<use href="#g84" x="207" y="242"/><use href="#g49" x="215" y="242"/><use href="#g49" x="223" y="242"/>
<use href="#g78" x="180" y="258"/><use href="#g69" x="188" y="258"/><use href="#g53" x="196" y="258"/><use href="#g53" x="204" y="258"/><use href="#g51" x="212" y="258"/><use href="#g52" x="220" y="258"/>
<use href="#g67" x="123" y="198"/><use href="#g49" x="131" y="198"/><use href="#g48" x="139" y="198"/>
<use href="#g49" x="101" y="219"/><use href="#g48" x="109" y="219"/><use href="#g48" x="117" y="219"/><use href="#g117" x="125" y="219"/><use href="#g70" x="133" y="219"/><use href="#g51" x="141" y="219"/><use href="#g86" x="149" y="219"/>
<use href="#g65" x="24" y="221"/><use href="#g85" x="32" y="221"/><use href="#g68" x="40" y="221"/><use href="#g73" x="48" y="221"/><use href="#g79" x="56" y="221"/><use href="#g73" x="64" y="221"/><use href="#g78" x="72" y="221"/><use href="#g80" x="80" y="221"/><use href="#g85" x="88" y="221"/>
<use href="#g54" x="16" y="239"/><use href="#g48" x="24" y="239"/>
<circle cx="42.5" cy="242.5" r="3"/>
<polyline points="45.5,242.5 65.5,242.5"/>
<polyline points="65.5,242.5 67.5,246.5 71.5,237.5 75.5,246.5 79.5,237.5 83.5,246.5 87.5,237.5 89.5,242.5"/>
<polyline points="89.5,242.5 136.5,242.5"/>
<rect class="f" x="110" y="240" width="5" height="5"/>
<rect class="f" x="136" y="236" width="2" height="13"/>
<polyline points="136.5,232.5 139.5,232.5 143.5,236.5 143.5,248.5 139.5,252.5 136.5,252.5"/>
<polyline points="143.5,242.5 185.5,242.5"/>
<rect class="f" x="160" y="240" width="5" height="5"/>
<use href="#g82" x="72" y="252"/><use href="#g55" x="80" y="252"/><use href="#g52" x="88" y="252"/>
<use href="#g49" x="70" y="264"/><use href="#g75" x="78" y="264"/>
<polyline points="112.5,242.5 112.5,266.5"/>
<polyline points="112.5,266.5 107.5,268.5 116.5,272.5 107.5,276.5 116.5,280.5 107.5,284.5 116.5,288.5 112.5,290.5"/>
<polyline points="112.5,290.5 112.5,318.5"/>
<line x1="109.0" y1="322.0" x2="116.5" y2="314.5"/>
<polyline points="162.5,242.5 162.5,266.5"/>
<polyline points="162.5,266.5 157.5,268.5 166.5,272.5 157.5,276.5 166.5,280.5 157.5,284.5 166.5,288.5 162.5,290.5"/>
<polyline points="162.5,290.5 162.5,318.5"/>
<line x1="159.0" y1="322.0" x2="166.5" y2="314.5"/>
<use href="#g82" x="127" y="273"/><use href="#g55" x="135" y="273"/><use href="#g53" x="143" y="273"/>
<use href="#g49" x="126" y="287"/><use href="#g48" x="134" y="287"/><use href="#g48" x="142" y="287"/><use href="#g75" x="150" y="287"/>
<use href="#g82" x="176" y="273"/><use href="#g55" x="184" y="273"/><use href="#g54" x="192" y="273"/>
<use href="#g50" x="176" y="287"/><use href="#g46" x="184" y="287"/><use href="#g52" x="192" y="287"/><use href="#g75" x="200" y="287"/>
<use href="#g43" x="631" y="62"/><use href="#g53" x="639" y="62"/><use href="#g86" x="647" y="62"/>
<polyline points="644.5,77.5 660.5,77.5"/>
<circle class="f" cx="652.5" cy="77.5" r="1.8"/>
<polyline points="652.5,77.5 652.5,102.5 696.5,102.5"/>
<polyline points="696.5,102.5 698.5,106.5 702.5,97.5 706.5,106.5 710.5,97.5 714.5,106.5 718.5,97.5 720.5,102.5"/>
<polyline points="720.5,102.5 752.5,102.5 752.5,234.5"/>
<use href="#g82" x="675" y="87"/><use href="#g57" x="683" y="87"/><use href="#g53" x="691" y="87"/>
<use href="#g54" x="706" y="86"/><use href="#g56" x="714" y="86"/><use href="#g75" x="722" y="86"/>
<polyline points="662.5,234.5 662.5,132.5 673.5,132.5"/>
<polygon class="f" points="673,127 673,138 679,132.5"/>
<rect class="f" x="679" y="127" width="2" height="11"/>
<rect class="f" x="678" y="126" width="1" height="1"/>
<rect class="f" x="681" y="138" width="1" height="1"/>
<polyline points="681.5,132.5 716.5,132.5"/>
<polyline points="716.5,132.5 718.5,136.5 722.5,127.5 726.5,136.5 730.5,127.5 734.5,136.5 738.5,127.5 740.5,132.5"/>
<polyline points="740.5,132.5 752.5,132.5"/>
<rect class="f" x="750" y="130" width="5" height="5"/>
<use href="#g68" x="654" y="115"/><use href="#g50" x="662" y="115"/><use href="#g49" x="670" y="115"/>
<use href="#g49" x="681" y="115"/><use href="#g46" x="689" y="115"/><use href="#g53" x="697" y="115"/><use href="#g86" x="705" y="115"/>
<use href="#g82" x="727" y="115"/><use href="#g57" x="735" y="115"/><use href="#g54" x="743" y="115"/>
<use href="#g53" x="717" y="142"/><use href="#g54" x="725" y="142"/><use href="#g75" x="733" y="142"/>
<polyline points="662.5,162.5 697.5,162.5"/>
<polyline points="697.5,162.5 699.5,166.5 703.5,157.5 707.5,166.5 711.5,157.5 715.5,166.5 719.5,157.5 721.5,162.5"/>
<polyline points="721.5,162.5 752.5,162.5"/>
<rect class="f" x="660" y="160" width="5" height="5"/>
<rect class="f" x="750" y="160" width="5" height="5"/>
<use href="#g82" x="678" y="149"/><use href="#g57" x="686" y="149"/><use href="#g55" x="694" y="149"/><use href="#g42" x="702" y="149"/>
<use href="#g49" x="684" y="171"/><use href="#g53" x="692" y="171"/><use href="#g75" x="700" y="171"/>
<polyline points="752.5,162.5 765.5,162.5"/>
<polyline points="765.5,162.5 767.5,166.5 771.5,157.5 775.5,166.5 779.5,157.5 783.5,166.5 787.5,157.5 789.5,162.5"/>
<polyline points="789.5,162.5 803.5,162.5"/>
<use href="#g82" x="765" y="149"/><use href="#g57" x="773" y="149"/><use href="#g52" x="781" y="149"/><use href="#g42" x="789" y="149"/>
<use href="#g51" x="762" y="174"/><use href="#g48" x="770" y="174"/><use href="#g46" x="778" y="174"/><use href="#g49" x="786" y="174"/><use href="#g75" x="794" y="174"/>
<polyline points="719.5,185.5 719.5,219.5 685.5,202.5 719.5,185.5"/>
<polyline points="710.5,193.5 716.5,193.5"/>
<polyline points="710.5,211.5 716.5,211.5"/>
<polyline points="713.5,208.5 713.5,214.5"/>
<polyline points="719.5,192.5 752.5,192.5"/>
<rect class="f" x="750" y="190" width="5" height="5"/>
<use href="#g54" x="723" y="184"/>
<use href="#g53" x="723" y="204"/>
<use href="#g84" x="700" y="200"/><use href="#g52" x="708" y="200"/>
<use href="#g55" x="673" y="194"/>
<polyline points="719.5,212.5 732.5,212.5 732.5,226.5"/>
<line x1="729.0" y1="230.0" x2="736.5" y2="222.5"/>
<polyline points="685.5,202.5 662.5,202.5"/>
<rect class="f" x="660" y="200" width="5" height="5"/>
<polyline points="662.5,234.5 657.5,236.5 666.5,240.5 657.5,244.5 666.5,248.5 657.5,252.5 666.5,256.5 662.5,258.5"/>
<polyline points="662.5,258.5 662.5,281.5"/>
<polyline points="752.5,234.5 747.5,236.5 756.5,240.5 747.5,244.5 756.5,248.5 747.5,252.5 756.5,256.5 752.5,258.5"/>
<polyline points="752.5,258.5 752.5,301.5 572.5,301.5 572.5,500.5"/>
<use href="#g82" x="673" y="264"/><use href="#g57" x="681" y="264"/><use href="#g56" x="689" y="264"/><use href="#g42" x="697" y="264"/>
<use href="#g50" x="673" y="274"/><use href="#g46" x="681" y="274"/><use href="#g57" x="689" y="274"/><use href="#g52" x="697" y="274"/><use href="#g75" x="705" y="274"/>
<use href="#g82" x="764" y="264"/><use href="#g57" x="772" y="264"/><use href="#g51" x="780" y="264"/>
<use href="#g54" x="764" y="274"/><use href="#g56" x="772" y="274"/><use href="#g75" x="780" y="274"/>
<use href="#g83" x="174" y="339"/><use href="#g73" x="182" y="339"/><use href="#g68" x="190" y="339"/><use href="#g69" x="198" y="339"/><use href="#g67" x="214" y="339"/><use href="#g72" x="222" y="339"/><use href="#g65" x="230" y="339"/><use href="#g73" x="238" y="339"/><use href="#g78" x="246" y="339"/><use href="#g73" x="262" y="339"/><use href="#g78" x="270" y="339"/><use href="#g80" x="278" y="339"/><use href="#g85" x="286" y="339"/>
<use href="#g51" x="158" y="351"/><use href="#g53" x="166" y="351"/>
<circle cx="182.5" cy="352.5" r="3"/>
<polyline points="182.5,355.5 182.5,396.5"/>
<rect class="f" x="180" y="370" width="5" height="5"/>
<polyline points="182.5,372.5 195.5,372.5"/>
<polyline points="195.5,372.5 197.5,376.5 201.5,367.5 205.5,376.5 209.5,367.5 213.5,376.5 217.5,367.5 219.5,372.5"/>
<polyline points="219.5,372.5 242.5,372.5"/>
<polyline points="242.5,372.5 242.5,398.5"/>
<line x1="239.0" y1="402.0" x2="246.5" y2="394.5"/>
<use href="#g82" x="198" y="356"/><use href="#g49" x="206" y="356"/>
<use href="#g49" x="192" y="383"/><use href="#g48" x="200" y="383"/><use href="#g48" x="208" y="383"/><use href="#g75" x="216" y="383"/>
<use href="#g67" x="193" y="404"/><use href="#g49" x="201" y="404"/>
<use href="#g49" x="193" y="414"/><use href="#g48" x="201" y="414"/><use href="#g117" x="209" y="414"/><use href="#g70" x="217" y="414"/>
<rect class="f" x="176" y="396" width="13" height="2"/>
<polyline points="172.5,396.5 172.5,398.5 176.5,402.5 188.5,402.5 192.5,398.5 192.5,396.5"/>
<polyline points="182.5,402.5 182.5,425.5"/>
<polyline points="182.5,425.5 177.5,427.5 186.5,431.5 177.5,435.5 186.5,439.5 177.5,443.5 186.5,447.5 182.5,449.5"/>
<polyline points="182.5,449.5 182.5,522.5"/>
<rect class="f" x="180" y="470" width="5" height="5"/>
<use href="#g82" x="191" y="431"/><use href="#g50" x="199" y="431"/>
<use href="#g54" x="192" y="447"/><use href="#g46" x="200" y="447"/><use href="#g50" x="208" y="447"/><use href="#g75" x="216" y="447"/>
<use href="#g43" x="131" y="432"/><use href="#g49" x="139" y="432"/><use href="#g56" x="147" y="432"/><use href="#g86" x="155" y="432"/>
<polyline points="144.5,446.5 160.5,446.5"/>
<circle class="f" cx="152.5" cy="446.5" r="1.8"/>
<polyline points="152.5,446.5 152.5,474.5"/>
<rect class="f" x="146" y="474" width="13" height="2"/>
<rect class="f" x="146" y="479" width="13" height="2"/>
<polyline points="152.5,481.5 152.5,522.5"/>
<use href="#g67" x="134" y="453"/><use href="#g50" x="142" y="453"/>
<use href="#g51" x="111" y="468"/><use href="#g46" x="119" y="468"/><use href="#g51" x="127" y="468"/><use href="#g110" x="135" y="468"/>
<polyline points="182.5,472.5 205.5,472.5"/>
<polyline points="205.5,472.5 207.5,476.5 211.5,467.5 215.5,476.5 219.5,467.5 223.5,476.5 227.5,467.5 229.5,472.5"/>
<polyline points="229.5,472.5 252.5,472.5"/>
<polyline points="252.5,472.5 252.5,496.5"/>
<line x1="249.0" y1="500.0" x2="256.5" y2="492.5"/>
<use href="#g82" x="197" y="482"/><use href="#g51" x="205" y="482"/>
<use href="#g49" x="217" y="482"/><use href="#g48" x="225" y="482"/><use href="#g75" x="233" y="482"/>
<path d="M117.5,522.5 H188.5 V532.5 Q183,537.5 188.5,542.5 V552.5 H117.5 Z"/>
<use href="#g65" x="123" y="532"/><use href="#g68" x="131" y="532"/><use href="#g53" x="139" y="532"/><use href="#g51" x="147" y="532"/><use href="#g54" x="155" y="532"/><use href="#g74" x="163" y="532"/>
<use href="#g84" x="194" y="541"/><use href="#g49" x="202" y="541"/>
<use href="#g43" x="191" y="552"/><use href="#g49" x="199" y="552"/><use href="#g53" x="207" y="552"/><use href="#g86" x="215" y="552"/>
<polyline points="122.5,512.5 122.5,522.5"/>
<polyline points="122.5,552.5 122.5,562.5"/>
<g transform="translate(121,521) rotate(-90)"><use href="#g55" x="0" y="-7"/></g>
<g transform="translate(121,561) rotate(-90)"><use href="#g56" x="0" y="-7"/></g>
<polyline points="132.5,512.5 132.5,522.5"/>
<polyline points="132.5,552.5 132.5,562.5"/>
<g transform="translate(131,521) rotate(-90)"><use href="#g54" x="0" y="-7"/></g>
<g transform="translate(131,561) rotate(-90)"><use href="#g57" x="0" y="-7"/></g>
<polyline points="142.5,512.5 142.5,522.5"/>
<polyline points="142.5,552.5 142.5,562.5"/>
<g transform="translate(141,521) rotate(-90)"><use href="#g53" x="0" y="-7"/></g>
<g transform="translate(141,569) rotate(-90)"><use href="#g49" x="0" y="-7"/><use href="#g48" x="8" y="-7"/></g>
<polyline points="152.5,512.5 152.5,522.5"/>
<polyline points="152.5,552.5 152.5,562.5"/>
<g transform="translate(151,521) rotate(-90)"><use href="#g52" x="0" y="-7"/></g>
<g transform="translate(151,569) rotate(-90)"><use href="#g49" x="0" y="-7"/><use href="#g49" x="8" y="-7"/></g>
<polyline points="162.5,512.5 162.5,522.5"/>
<polyline points="162.5,552.5 162.5,562.5"/>
<g transform="translate(161,521) rotate(-90)"><use href="#g51" x="0" y="-7"/></g>
<g transform="translate(161,569) rotate(-90)"><use href="#g49" x="0" y="-7"/><use href="#g50" x="8" y="-7"/></g>
<polyline points="172.5,512.5 172.5,522.5"/>
<polyline points="172.5,552.5 172.5,562.5"/>
<g transform="translate(171,521) rotate(-90)"><use href="#g50" x="0" y="-7"/></g>
<g transform="translate(171,569) rotate(-90)"><use href="#g49" x="0" y="-7"/><use href="#g51" x="8" y="-7"/></g>
<polyline points="182.5,512.5 182.5,522.5"/>
<polyline points="182.5,552.5 182.5,562.5"/>
<g transform="translate(181,521) rotate(-90)"><use href="#g49" x="0" y="-7"/></g>
<g transform="translate(181,569) rotate(-90)"><use href="#g49" x="0" y="-7"/><use href="#g52" x="8" y="-7"/></g>
<polyline points="72.5,715.5 72.5,492.5 142.5,492.5 142.5,512.5"/>
<rect class="f" x="120" y="490" width="5" height="5"/>
<polyline points="122.5,492.5 122.5,512.5"/>
<polyline points="92.5,602.5 92.5,502.5 132.5,502.5 132.5,512.5"/>
<polyline points="162.5,512.5 162.5,502.5 212.5,502.5 212.5,517.5"/>
<polyline points="204.5,517.5 220.5,517.5"/>
<circle class="f" cx="212.5" cy="517.5" r="1.8"/>
<use href="#g45" x="225" y="516"/><use href="#g49" x="233" y="516"/><use href="#g56" x="241" y="516"/><use href="#g86" x="249" y="516"/>
<polyline points="182.5,552.5 182.5,582.5 212.5,582.5 212.5,567.5"/>
<polyline points="204.5,567.5 220.5,567.5"/>
<circle class="f" cx="212.5" cy="567.5" r="1.8"/>
<polyline points="132.5,562.5 132.5,597.5"/>
<line x1="129.0" y1="601.0" x2="136.5" y2="593.5"/>
<polyline points="142.5,562.5 142.5,597.5"/>
<line x1="139.0" y1="601.0" x2="146.5" y2="593.5"/>
<use href="#g86" x="104" y="594"/><use href="#g82" x="112" y="594"/><use href="#g49" x="120" y="594"/>
<use href="#g83" x="100" y="611"/><use href="#g69" x="108" y="611"/><use href="#g84" x="116" y="611"/><use href="#g71" x="132" y="611"/><use href="#g65" x="140" y="611"/><use href="#g73" x="148" y="611"/><use href="#g78" x="156" y="611"/>
<polyline points="92.5,612.5 92.5,625.5"/>
<polygon points="89.5,625.5 95.5,625.5 99.5,629.5 99.5,635.5 95.5,639.5 89.5,639.5 85.5,635.5 85.5,629.5"/>
<line x1="83.5" y1="642.5" x2="98.5" y2="627.5"/>
<polygon class="f" points="95.5,623 97,621.5 103,627.5 101.5,629"/>
<polyline points="92.5,639.5 92.5,652.5 135.5,652.5"/>
<rect class="f" x="110" y="650" width="5" height="5"/>
<polyline points="112.5,632.5 112.5,652.5"/>
<polyline points="135.5,652.5 137.5,656.5 141.5,647.5 145.5,656.5 149.5,647.5 153.5,656.5 157.5,647.5 159.5,652.5"/>
<polyline points="159.5,652.5 205.5,652.5"/>
<rect class="f" x="180" y="650" width="5" height="5"/>
<use href="#g82" x="139" y="633"/><use href="#g54" x="147" y="633"/>
<use href="#g57" x="135" y="661"/><use href="#g49" x="143" y="661"/><use href="#g48" x="151" y="661"/>
<polyline points="182.5,652.5 182.5,622.5 215.5,622.5"/>
<polyline points="215.5,622.5 217.5,626.5 221.5,617.5 225.5,626.5 229.5,617.5 233.5,626.5 237.5,617.5 239.5,622.5"/>
<polyline points="239.5,622.5 262.5,622.5"/>
<rect class="f" x="260" y="620" width="5" height="5"/>
<use href="#g82" x="219" y="603"/><use href="#g55" x="227" y="603"/>
<use href="#g51" x="215" y="630"/><use href="#g54" x="223" y="630"/><use href="#g75" x="231" y="630"/>
<circle cx="262.5" cy="592.5" r="3"/>
<use href="#g84" x="255" y="578"/><use href="#g80" x="263" y="578"/><use href="#g49" x="271" y="578"/>
<polyline points="262.5,595.5 262.5,662.5 239.5,662.5"/>
<rect class="f" x="260" y="650" width="5" height="5"/>
<polyline points="205.5,645.5 205.5,679.5 239.5,662.5 205.5,645.5"/>
<polyline points="208.5,653.5 214.5,653.5"/>
<polyline points="208.5,671.5 214.5,671.5"/>
<polyline points="211.5,668.5 211.5,674.5"/>
<use href="#g49" x="186" y="645"/><use href="#g51" x="194" y="645"/>
<use href="#g49" x="186" y="665"/><use href="#g50" x="194" y="665"/>
<use href="#g49" x="244" y="655"/><use href="#g52" x="252" y="655"/>
<use href="#g84" x="226" y="675"/><use href="#g50" x="234" y="675"/>
<polyline points="205.5,672.5 182.5,672.5 182.5,692.5"/>
<line x1="179.0" y1="696.0" x2="186.5" y2="688.5"/>
<use href="#g43" x="91" y="672"/><use href="#g53" x="99" y="672"/><use href="#g86" x="107" y="672"/>
<polyline points="104.5,687.5 120.5,687.5"/>
<circle class="f" cx="112.5" cy="687.5" r="1.8"/>
<polyline points="112.5,687.5 112.5,715.5"/>
<polyline points="112.5,715.5 107.5,717.5 116.5,721.5 107.5,725.5 116.5,729.5 107.5,733.5 116.5,737.5 112.5,739.5"/>
<polyline points="112.5,739.5 112.5,752.5"/>
<polyline points="72.5,715.5 67.5,717.5 76.5,721.5 67.5,725.5 76.5,729.5 67.5,733.5 76.5,737.5 72.5,739.5"/>
<use href="#g82" x="81" y="721"/><use href="#g52" x="89" y="721"/>
<use href="#g55" x="84" y="737"/><use href="#g53" x="92" y="737"/><use href="#g75" x="100" y="737"/>
<use href="#g82" x="122" y="721"/><use href="#g53" x="130" y="721"/>
<use href="#g50" x="122" y="737"/><use href="#g46" x="130" y="737"/><use href="#g50" x="138" y="737"/><use href="#g75" x="146" y="737"/>
<polyline points="72.5,739.5 72.5,752.5"/>
<polyline points="72.5,752.5 202.5,752.5"/>
<rect class="f" x="110" y="750" width="5" height="5"/>
<rect class="f" x="200" y="750" width="5" height="5"/>
<polyline points="202.5,752.5 202.5,732.5 232.5,732.5"/>
<polyline points="212.5,752.5 224.5,752.5"/>
<polygon points="229.5,744.5 235.5,744.5 239.5,748.5 239.5,755.5 235.5,759.5 229.5,759.5 225.5,755.5 225.5,748.5"/>
<line x1="224.5" y1="744.5" x2="240.5" y2="760.5"/>
<polygon class="f" points="223,748 224.5,749.5 230.5,743.5 229,742"/>
<polyline points="240.5,752.5 312.5,752.5 312.5,708.5"/>
<use href="#g86" x="243" y="735"/><use href="#g82" x="251" y="735"/><use href="#g50" x="259" y="735"/>
<use href="#g83" x="208" y="767"/><use href="#g69" x="216" y="767"/><use href="#g84" x="224" y="767"/><use href="#g48" x="240" y="767"/><use href="#g100" x="248" y="767"/><use href="#g98" x="256" y="767"/><use href="#g53" x="272" y="767"/><use href="#g75" x="280" y="767"/>
<rect class="f" x="107" y="763" width="11" height="2"/>
<polygon class="f" points="107,771 118,771 112.5,765"/>
<polyline points="112.5,752.5 112.5,795.5"/>
<line x1="109.0" y1="799.0" x2="116.5" y2="791.5"/>
<use href="#g68" x="124" y="774"/><use href="#g49" x="132" y="774"/>
<use href="#g49" x="124" y="784"/><use href="#g46" x="132" y="784"/><use href="#g53" x="140" y="784"/><use href="#g86" x="148" y="784"/>
<polyline points="262.5,652.5 275.5,652.5"/>
<polyline points="275.5,652.5 277.5,656.5 281.5,647.5 285.5,656.5 289.5,647.5 293.5,656.5 297.5,647.5 299.5,652.5"/>
<polyline points="299.5,652.5 355.5,652.5"/>
<rect class="f" x="310" y="650" width="5" height="5"/>
<rect class="f" x="330" y="650" width="5" height="5"/>
<use href="#g82" x="279" y="633"/><use href="#g56" x="287" y="633"/>
<use href="#g51" x="275" y="661"/><use href="#g54" x="283" y="661"/><use href="#g75" x="291" y="661"/>
<polyline points="312.5,652.5 312.5,684.5"/>
<polyline points="312.5,684.5 307.5,686.5 316.5,690.5 307.5,694.5 316.5,698.5 307.5,702.5 316.5,706.5 312.5,708.5"/>
<use href="#g82" x="284" y="692"/><use href="#g57" x="292" y="692"/>
<use href="#g49" x="273" y="705"/><use href="#g48" x="281" y="705"/><use href="#g75" x="289" y="705"/>
<polyline points="332.5,652.5 332.5,622.5 365.5,622.5"/>
<polyline points="365.5,622.5 367.5,626.5 371.5,617.5 375.5,626.5 379.5,617.5 383.5,626.5 387.5,617.5 389.5,622.5"/>
<polyline points="389.5,622.5 412.5,622.5"/>
<rect class="f" x="410" y="620" width="5" height="5"/>
<use href="#g82" x="369" y="603"/><use href="#g55" x="377" y="603"/>
<use href="#g51" x="365" y="630"/><use href="#g54" x="373" y="630"/><use href="#g75" x="381" y="630"/>
<circle cx="412.5" cy="592.5" r="3"/>
<use href="#g84" x="405" y="578"/><use href="#g80" x="413" y="578"/><use href="#g50" x="421" y="578"/>
<polyline points="412.5,595.5 412.5,772.5"/>
<rect class="f" x="410" y="650" width="5" height="5"/>
<rect class="f" x="410" y="660" width="5" height="5"/>
<polyline points="355.5,645.5 355.5,679.5 389.5,662.5 355.5,645.5"/>
<polyline points="358.5,653.5 364.5,653.5"/>
<polyline points="358.5,671.5 364.5,671.5"/>
<polyline points="361.5,668.5 361.5,674.5"/>
<polyline points="389.5,662.5 412.5,662.5"/>
<use href="#g57" x="344" y="644"/>
<use href="#g49" x="335" y="665"/><use href="#g48" x="343" y="665"/>
<use href="#g56" x="395" y="654"/>
<use href="#g84" x="376" y="675"/><use href="#g50" x="384" y="675"/>
<polyline points="355.5,672.5 332.5,672.5 332.5,685.5"/>
<polyline points="332.5,685.5 327.5,687.5 336.5,691.5 327.5,695.5 336.5,699.5 327.5,703.5 336.5,707.5 332.5,709.5"/>
<polyline points="332.5,709.5 332.5,735.5"/>
<line x1="329.0" y1="739.0" x2="336.5" y2="731.5"/>
<use href="#g82" x="350" y="691"/><use href="#g49" x="358" y="691"/><use href="#g48" x="366" y="691"/>
<use href="#g55" x="346" y="706"/><use href="#g46" x="354" y="706"/><use href="#g53" x="362" y="706"/><use href="#g75" x="370" y="706"/>
<polyline points="412.5,652.5 425.5,652.5"/>
<polyline points="425.5,652.5 427.5,656.5 431.5,647.5 435.5,656.5 439.5,647.5 443.5,656.5 447.5,647.5 449.5,652.5"/>
<polyline points="449.5,652.5 505.5,652.5"/>
<use href="#g82" x="428" y="633"/><use href="#g49" x="436" y="633"/><use href="#g50" x="444" y="633"/>
<use href="#g51" x="427" y="659"/><use href="#g54" x="435" y="659"/><use href="#g75" x="443" y="659"/>
<use href="#g67" x="303" y="515"/><use href="#g84" x="319" y="515"/><use href="#g72" x="327" y="515"/><use href="#g83" x="335" y="515"/><use href="#g72" x="343" y="515"/>
<use href="#g49" x="301" y="530"/><use href="#g48" x="309" y="530"/><use href="#g75" x="317" y="530"/><use href="#g76" x="333" y="530"/><use href="#g73" x="341" y="530"/><use href="#g78" x="349" y="530"/><use href="#g68" x="365" y="530"/><use href="#g85" x="373" y="530"/><use href="#g65" x="381" y="530"/><use href="#g76" x="389" y="530"/>
<polyline points="532.5,442.5 382.5,442.5 382.5,522.5 413.5,522.5"/>
<polygon class="f" points="419,522.5 414,518 414,527"/>
<polyline points="414.5,477.5 430.5,477.5"/>
<circle class="f" cx="422.5" cy="477.5" r="1.8"/>
<polyline points="422.5,477.5 422.5,509.5"/>
<polyline points="422.5,509.5 427.5,511.5 418.5,515.5 427.5,519.5 418.5,523.5 427.5,527.5 418.5,531.5 422.5,533.5"/>
<polyline points="422.5,533.5 422.5,557.5"/>
<polyline points="414.5,557.5 430.5,557.5"/>
<circle class="f" cx="422.5" cy="557.5" r="1.8"/>
<use href="#g43" x="401" y="461"/><use href="#g49" x="409" y="461"/><use href="#g53" x="417" y="461"/><use href="#g86" x="425" y="461"/>
<use href="#g45" x="395" y="547"/><use href="#g53" x="403" y="547"/><use href="#g86" x="411" y="547"/>
<polyline points="444.5,477.5 460.5,477.5"/>
<circle class="f" cx="452.5" cy="477.5" r="1.8"/>
<polyline points="452.5,477.5 452.5,509.5"/>
<polyline points="452.5,509.5 447.5,511.5 456.5,515.5 447.5,519.5 456.5,523.5 447.5,527.5 456.5,531.5 452.5,533.5"/>
<polyline points="452.5,533.5 452.5,564.5"/>
<polygon class="f" points="456,522.5 461,518 461,527"/>
<polyline points="461.5,522.5 473.5,522.5"/>
<circle cx="482.5" cy="522.5" r="3"/>
<use href="#g43" x="445" y="461"/><use href="#g53" x="453" y="461"/><use href="#g86" x="461" y="461"/>
<use href="#g49" x="493" y="518"/><use href="#g53" x="501" y="518"/>
<use href="#g49" x="432" y="545"/><use href="#g54" x="440" y="545"/>
<circle cx="452.5" cy="552.5" r="3"/>
<polyline points="452.5,564.5 447.5,566.5 456.5,570.5 447.5,574.5 456.5,578.5 447.5,582.5 456.5,586.5 452.5,588.5"/>
<polyline points="452.5,588.5 452.5,617.5"/>
<line x1="449.0" y1="621.0" x2="456.5" y2="613.5"/>
<use href="#g82" x="423" y="593"/><use href="#g49" x="431" y="593"/><use href="#g53" x="439" y="593"/>
<use href="#g52" x="423" y="605"/><use href="#g51" x="431" y="605"/><use href="#g75" x="439" y="605"/>
<polyline points="403.5,511.5 413.5,492.5 482.5,492.5 472.5,511.5" stroke-dasharray="4,4"/>
<polyline points="482.5,525.5 482.5,544.5"/>
<polyline points="482.5,544.5 477.5,546.5 486.5,550.5 477.5,554.5 486.5,558.5 477.5,562.5 486.5,566.5 482.5,568.5"/>
<polyline points="482.5,568.5 482.5,592.5"/>
<use href="#g82" x="493" y="541"/><use href="#g49" x="501" y="541"/><use href="#g53" x="509" y="541"/>
<use href="#g52" x="494" y="553"/><use href="#g51" x="502" y="553"/><use href="#g75" x="510" y="553"/>
<rect class="f" x="480" y="590" width="5" height="5"/>
<rect class="f" x="480" y="620" width="5" height="5"/>
<rect class="f" x="480" y="650" width="5" height="5"/>
<polyline points="482.5,592.5 482.5,652.5"/>
<polyline points="482.5,592.5 495.5,592.5"/>
<polyline points="495.5,592.5 497.5,596.5 501.5,587.5 505.5,596.5 509.5,587.5 513.5,596.5 517.5,587.5 519.5,592.5"/>
<polyline points="519.5,592.5 545.5,592.5"/>
<rect class="f" x="545" y="587" width="2" height="11"/>
<polygon class="f" points="553,587 553,598 547,592.5"/>
<polyline points="553.5,592.5 562.5,592.5 562.5,682.5"/>
<use href="#g82" x="494" y="578"/><use href="#g49" x="502" y="578"/><use href="#g51" x="510" y="578"/>
<use href="#g51" x="495" y="601"/><use href="#g54" x="503" y="601"/><use href="#g75" x="511" y="601"/>
<use href="#g68" x="538" y="601"/><use href="#g50" x="546" y="601"/>
<polyline points="482.5,622.5 524.5,622.5"/>
<polygon class="f" points="524,617 524,628 530,622.5"/>
<rect class="f" x="530" y="617" width="2" height="11"/>
<polyline points="532.5,622.5 562.5,622.5"/>
<rect class="f" x="560" y="620" width="5" height="5"/>
<use href="#g68" x="520" y="633"/><use href="#g51" x="528" y="633"/>
<polyline points="505.5,645.5 505.5,679.5 539.5,662.5 505.5,645.5"/>
<polyline points="508.5,653.5 514.5,653.5"/>
<polyline points="508.5,671.5 514.5,671.5"/>
<polyline points="511.5,668.5 511.5,674.5"/>
<polyline points="539.5,662.5 562.5,662.5"/>
<rect class="f" x="560" y="660" width="5" height="5"/>
<use href="#g54" x="492" y="644"/>
<use href="#g53" x="492" y="664"/>
<use href="#g55" x="544" y="654"/>
<use href="#g84" x="526" y="675"/><use href="#g50" x="534" y="675"/>
<polyline points="505.5,672.5 482.5,672.5 482.5,684.5"/>
<polyline points="482.5,684.5 477.5,686.5 486.5,690.5 477.5,694.5 486.5,698.5 477.5,702.5 486.5,706.5 482.5,708.5"/>
<polyline points="482.5,708.5 482.5,736.5"/>
<line x1="479.0" y1="740.0" x2="486.5" y2="732.5"/>
<use href="#g82" x="500" y="691"/><use href="#g53" x="508" y="691"/><use href="#g55" x="516" y="691"/>
<use href="#g49" x="496" y="706"/><use href="#g48" x="504" y="706"/><use href="#g75" x="512" y="706"/>
<polygon class="f" points="557,682 568,682 562.5,688"/>
<rect class="f" x="557" y="688" width="11" height="2"/>
<polyline points="562.5,690.5 562.5,722.5 706.5,722.5"/>
<polyline points="706.5,722.5 708.5,726.5 712.5,717.5 716.5,726.5 720.5,717.5 724.5,726.5 728.5,717.5 730.5,722.5"/>
<polyline points="730.5,722.5 742.5,722.5 742.5,695.5"/>
<circle cx="742.5" cy="692.5" r="3"/>
<rect class="f" x="600" y="720" width="5" height="5"/>
<rect class="f" x="620" y="720" width="5" height="5"/>
<rect class="f" x="670" y="720" width="5" height="5"/>
<use href="#g68" x="538" y="693"/><use href="#g53" x="546" y="693"/>
<use href="#g82" x="572" y="683"/><use href="#g49" x="580" y="683"/><use href="#g56" x="588" y="683"/>
<use href="#g51" x="569" y="701"/><use href="#g48" x="577" y="701"/><use href="#g48" x="585" y="701"/>
<circle cx="532.5" cy="492.5" r="3"/>
<polyline points="532.5,442.5 532.5,489.5"/>
<rect class="f" x="530" y="440" width="5" height="5"/>
<polyline points="532.5,502.5 532.5,518.5"/>
<polyline points="532.5,518.5 527.5,520.5 536.5,524.5 527.5,528.5 536.5,532.5 527.5,536.5 536.5,540.5 532.5,542.5"/>
<polyline points="532.5,542.5 532.5,567.5"/>
<line x1="529.0" y1="571.0" x2="536.5" y2="563.5"/>
<polygon class="f" points="537,532.5 542,528 542,537"/>
<polyline points="542.5,532.5 553.5,532.5"/>
<polyline points="532.5,442.5 552.5,442.5 552.5,465.5"/>
<polyline points="552.5,465.5 547.5,467.5 556.5,471.5 547.5,475.5 556.5,479.5 547.5,483.5 556.5,487.5 552.5,489.5"/>
<polyline points="552.5,489.5 552.5,519.5"/>
<rect class="f" x="550" y="500" width="5" height="5"/>
<circle cx="552.5" cy="522.5" r="3"/>
<polyline points="552.5,502.5 572.5,502.5"/>
<use href="#g82" x="502" y="414"/><use href="#g49" x="510" y="414"/><use href="#g55" x="518" y="414"/>
<use href="#g50" x="502" y="428"/><use href="#g46" x="510" y="428"/><use href="#g55" x="518" y="428"/><use href="#g75" x="526" y="428"/>
<use href="#g49" x="484" y="466"/><use href="#g55" x="492" y="466"/><use href="#g46" x="500" y="466"/><use href="#g49" x="508" y="466"/><use href="#g51" x="516" y="466"/>
<use href="#g57" x="558" y="518"/>
<polyline points="602.5,405.5 602.5,362.5 615.5,362.5"/>
<rect class="f" x="615" y="357" width="2" height="11"/>
<polygon class="f" points="623,357 623,368 617,362.5"/>
<polyline points="623.5,362.5 644.5,362.5"/>
<rect class="f" x="644" y="357" width="2" height="11"/>
<polygon class="f" points="652,357 652,368 646,362.5"/>
<polyline points="652.5,362.5 686.5,362.5"/>
<line x1="599.0" y1="409.0" x2="606.5" y2="401.5"/>
<rect class="f" x="600" y="390" width="5" height="5"/>
<rect class="f" x="670" y="360" width="5" height="5"/>
<polyline points="686.5,362.5 688.5,366.5 692.5,357.5 696.5,366.5 700.5,357.5 704.5,366.5 708.5,357.5 710.5,362.5"/>
<polyline points="710.5,362.5 767.5,362.5"/>
<rect class="f" x="730" y="360" width="5" height="5"/>
<polyline points="767.5,362.5 769.5,366.5 773.5,357.5 777.5,366.5 781.5,357.5 785.5,366.5 789.5,357.5 791.5,362.5"/>
<polyline points="791.5,362.5 844.5,362.5"/>
<rect class="f" x="820" y="360" width="5" height="5"/>
<rect class="f" x="844" y="357" width="2" height="11"/>
<polygon class="f" points="852,357 852,368 846,362.5"/>
<polyline points="852.5,362.5 872.5,362.5 872.5,524.5"/>
<polyline points="872.5,548.5 872.5,577.5"/>
<line x1="869.0" y1="581.0" x2="876.5" y2="573.5"/>
<polyline points="822.5,362.5 822.5,342.5 922.5,342.5"/>
<use href="#g68" x="605" y="371"/><use href="#g49" x="613" y="371"/><use href="#g52" x="621" y="371"/>
<use href="#g68" x="640" y="371"/><use href="#g49" x="648" y="371"/>
<use href="#g82" x="688" y="333"/><use href="#g53" x="696" y="333"/><use href="#g54" x="704" y="333"/>
<use href="#g53" x="686" y="346"/><use href="#g46" x="694" y="346"/><use href="#g49" x="702" y="346"/><use href="#g75" x="710" y="346"/>
<use href="#g82" x="770" y="342"/><use href="#g50" x="778" y="342"/><use href="#g48" x="786" y="342"/>
<use href="#g56" x="765" y="371"/><use href="#g46" x="773" y="371"/><use href="#g50" x="781" y="371"/><use href="#g75" x="789" y="371"/>
<use href="#g68" x="835" y="371"/><use href="#g50" x="843" y="371"/><use href="#g48" x="851" y="371"/>
<polyline points="602.5,392.5 627.5,392.5"/>
<polyline points="627.5,392.5 629.5,396.5 633.5,387.5 637.5,396.5 641.5,387.5 645.5,396.5 649.5,387.5 651.5,392.5"/>
<polyline points="651.5,392.5 672.5,392.5"/>
<polyline points="672.5,392.5 672.5,362.5"/>
<use href="#g82" x="626" y="401"/><use href="#g56" x="634" y="401"/><use href="#g56" x="642" y="401"/>
<use href="#g53" x="627" y="412"/><use href="#g54" x="635" y="412"/><use href="#g75" x="643" y="412"/>
<polyline points="732.5,362.5 732.5,482.5"/>
<rect class="f" x="730" y="390" width="5" height="5"/>
<polyline points="732.5,482.5 756.5,482.5"/>
<polyline points="732.5,392.5 767.5,392.5"/>
<polyline points="767.5,392.5 769.5,396.5 773.5,387.5 777.5,396.5 781.5,387.5 785.5,396.5 789.5,387.5 791.5,392.5"/>
<polyline points="791.5,392.5 872.5,392.5"/>
<rect class="f" x="870" y="390" width="5" height="5"/>
<use href="#g82" x="766" y="402"/><use href="#g50" x="774" y="402"/><use href="#g48" x="782" y="402"/>
<use href="#g56" x="768" y="414"/><use href="#g46" x="776" y="414"/><use href="#g50" x="784" y="414"/><use href="#g75" x="792" y="414"/>
<use href="#g43" x="811" y="392"/><use href="#g49" x="819" y="392"/><use href="#g53" x="827" y="392"/><use href="#g86" x="835" y="392"/>
<polyline points="824.5,407.5 840.5,407.5"/>
<circle class="f" cx="832.5" cy="407.5" r="1.8"/>
<polyline points="832.5,407.5 832.5,435.5"/>
<polyline points="832.5,435.5 827.5,437.5 836.5,441.5 827.5,445.5 836.5,449.5 827.5,453.5 836.5,457.5 832.5,459.5"/>
<polyline points="832.5,459.5 832.5,482.5"/>
<use href="#g82" x="839" y="430"/><use href="#g53" x="847" y="430"/><use href="#g51" x="855" y="430"/>
<use href="#g49" x="840" y="445"/><use href="#g48" x="848" y="445"/><use href="#g48" x="856" y="445"/>
<use href="#g84" x="792" y="454"/><use href="#g82" x="800" y="454"/><use href="#g49" x="808" y="454"/>
<use href="#g66" x="791" y="466"/><use href="#g67" x="799" y="466"/><use href="#g49" x="807" y="466"/><use href="#g56" x="815" y="466"/><use href="#g52" x="823" y="466"/>
<polyline points="712.5,459.5 712.5,422.5 690.5,422.5"/>
<polyline points="666.5,422.5 668.5,426.5 672.5,417.5 676.5,426.5 680.5,417.5 684.5,426.5 688.5,417.5 690.5,422.5"/>
<polyline points="666.5,422.5 642.5,422.5 642.5,454.5"/>
<polyline points="642.5,442.5 642.5,454.5"/>
<polyline points="642.5,454.5 637.5,456.5 646.5,460.5 637.5,464.5 646.5,468.5 637.5,472.5 646.5,476.5 642.5,478.5"/>
<polyline points="642.5,478.5 642.5,515.5"/>
<rect class="f" x="640" y="440" width="5" height="5"/>
<rect class="f" x="640" y="490" width="5" height="5"/>
<polyline points="642.5,442.5 682.5,442.5 682.5,459.5"/>
<circle cx="682.5" cy="462.5" r="3"/>
<circle cx="712.5" cy="462.5" r="3"/>
<use href="#g49" x="659" y="468"/><use href="#g49" x="667" y="468"/>
<use href="#g49" x="691" y="468"/><use href="#g48" x="699" y="468"/>
<use href="#g82" x="603" y="453"/><use href="#g50" x="611" y="453"/><use href="#g54" x="619" y="453"/>
<use href="#g49" x="602" y="465"/><use href="#g48" x="610" y="465"/><use href="#g48" x="618" y="465"/>
<use href="#g82" x="669" y="393"/><use href="#g49" x="677" y="393"/><use href="#g55" x="685" y="393"/>
<use href="#g50" x="666" y="406"/><use href="#g46" x="674" y="406"/><use href="#g55" x="682" y="406"/><use href="#g75" x="690" y="406"/>
<polyline points="642.5,492.5 612.5,492.5 612.5,572.5 632.5,572.5 632.5,548.5"/>
<polyline points="625.5,548.5 659.5,548.5 642.5,515.5 625.5,548.5"/>
<polyline points="633.5,541.5 633.5,546.5"/>
<polyline points="648.5,544.5 654.5,544.5"/>
<polyline points="651.5,541.5 651.5,547.5"/>
<g transform="translate(641,511) rotate(-90)"><use href="#g49" x="0" y="-7"/></g>
<g transform="translate(631,563) rotate(-90)"><use href="#g50" x="0" y="-7"/></g>
<g transform="translate(650,563) rotate(-90)"><use href="#g51" x="0" y="-7"/></g>
<use href="#g84" x="665" y="554"/><use href="#g50" x="673" y="554"/>
<polyline points="652.5,548.5 652.5,612.5"/>
<polyline points="682.5,472.5 682.5,488.5"/>
<polyline points="682.5,488.5 677.5,490.5 686.5,494.5 677.5,498.5 686.5,502.5 677.5,506.5 686.5,510.5 682.5,512.5"/>
<polyline points="682.5,512.5 682.5,535.5"/>
<line x1="679.0" y1="539.0" x2="686.5" y2="531.5"/>
<polygon class="f" points="687,502.5 692,498 692,507"/>
<polyline points="692.5,502.5 756.5,502.5"/>
<polyline points="712.5,472.5 712.5,502.5"/>
<rect class="f" x="710" y="500" width="5" height="5"/>
<polyline points="756.5,475.5 756.5,509.5 790.5,492.5 756.5,475.5"/>
<polyline points="759.5,483.5 765.5,483.5"/>
<polyline points="759.5,501.5 765.5,501.5"/>
<polyline points="762.5,498.5 762.5,504.5"/>
<use href="#g57" x="743" y="474"/>
<use href="#g49" x="735" y="494"/><use href="#g48" x="743" y="494"/>
<use href="#g56" x="793" y="484"/>
<use href="#g84" x="778" y="506"/><use href="#g52" x="786" y="506"/>
<polyline points="790.5,492.5 822.5,492.5"/>
<rect class="f" x="822" y="482" width="2" height="21"/>
<polyline points="824.5,488.5 832.5,482.5 832.5,459.5"/>
<polyline points="824.5,496.5 832.5,502.5 832.5,541.5"/>
<polygon class="f" points="833,503 827,502 832,497"/>
<rect class="f" x="830" y="510" width="5" height="5"/>
<polyline points="832.5,512.5 872.5,512.5"/>
<rect class="f" x="870" y="510" width="5" height="5"/>
<polyline points="872.5,524.5 867.5,526.5 876.5,530.5 867.5,534.5 876.5,538.5 867.5,542.5 876.5,546.5 872.5,548.5"/>
<use href="#g82" x="890" y="531"/><use href="#g53" x="898" y="531"/><use href="#g52" x="906" y="531"/>
<use href="#g49" x="887" y="546"/><use href="#g48" x="895" y="546"/><use href="#g75" x="903" y="546"/>
<polygon class="f" points="827,541 838,541 832.5,547"/>
<rect class="f" x="827" y="547" width="11" height="2"/>
<polyline points="832.5,549.5 832.5,614.5"/>
<rect class="f" x="830" y="590" width="5" height="5"/>
<polyline points="832.5,592.5 912.5,592.5"/>
<use href="#g68" x="801" y="540"/><use href="#g49" x="809" y="540"/><use href="#g56" x="817" y="540"/>
<polyline points="832.5,614.5 827.5,616.5 836.5,620.5 827.5,624.5 836.5,628.5 827.5,632.5 836.5,636.5 832.5,638.5"/>
<polyline points="832.5,638.5 832.5,667.5"/>
<polyline points="824.5,667.5 840.5,667.5"/>
<circle class="f" cx="832.5" cy="667.5" r="1.8"/>
<use href="#g45" x="818" y="678"/><use href="#g49" x="826" y="678"/><use href="#g53" x="834" y="678"/><use href="#g86" x="842" y="678"/>
<use href="#g82" x="782" y="612"/><use href="#g49" x="790" y="612"/><use href="#g48" x="798" y="612"/><use href="#g55" x="806" y="612"/>
<use href="#g52" x="783" y="625"/><use href="#g55" x="791" y="625"/><use href="#g48" x="799" y="625"/><use href="#g75" x="807" y="625"/>
<use href="#g65" x="590" y="591"/><use href="#g84" x="598" y="591"/><use href="#g84" x="606" y="591"/><use href="#g65" x="614" y="591"/><use href="#g67" x="622" y="591"/><use href="#g75" x="630" y="591"/>
<use href="#g67" x="671" y="581"/><use href="#g53" x="679" y="581"/>
<use href="#g51" x="669" y="596"/><use href="#g46" x="677" y="596"/><use href="#g51" x="685" y="596"/><use href="#g117" x="693" y="596"/><use href="#g70" x="701" y="596"/>
<use href="#g68" x="730" y="594"/><use href="#g55" x="738" y="594"/>
<polyline points="612.5,632.5 612.5,612.5 736.5,612.5"/>
<rect class="f" x="736" y="607" width="2" height="11"/>
<polygon class="f" points="744,607 744,618 738,612.5"/>
<polyline points="744.5,612.5 762.5,612.5 762.5,628.5"/>
<line x1="759.0" y1="632.0" x2="766.5" y2="624.5"/>
<rect class="f" x="650" y="610" width="5" height="5"/>
<rect class="f" x="670" y="610" width="5" height="5"/>
<rect class="f" x="690" y="610" width="5" height="5"/>
<circle cx="612.5" cy="635.5" r="3"/>
<circle cx="607.5" cy="649.5" r="3"/>
<circle cx="617.5" cy="649.5" r="3"/>
<polyline points="613.5,638.5 616.5,645.5"/>
<rect class="f" x="615" y="643" width="2" height="2"/>
<polyline points="603.5,649.5 602.5,649.5 602.5,674.5"/>
<polyline points="602.5,674.5 597.5,676.5 606.5,680.5 597.5,684.5 606.5,688.5 597.5,692.5 606.5,696.5 602.5,698.5"/>
<polyline points="602.5,698.5 602.5,722.5"/>
<polyline points="620.5,649.5 622.5,649.5 622.5,674.5"/>
<polyline points="622.5,674.5 617.5,676.5 626.5,680.5 617.5,684.5 626.5,688.5 617.5,692.5 626.5,696.5 622.5,698.5"/>
<polyline points="622.5,698.5 622.5,722.5"/>
<use href="#g83" x="626" y="654"/><use href="#g76" x="634" y="654"/><use href="#g79" x="642" y="654"/><use href="#g87" x="650" y="654"/>
<use href="#g82" x="629" y="683"/><use href="#g50" x="637" y="683"/><use href="#g49" x="645" y="683"/>
<use href="#g49" x="630" y="696"/><use href="#g48" x="638" y="696"/><use href="#g75" x="646" y="696"/>
<polyline points="623.5,641.5 632.5,622.5 712.5,622.5 730.5,657.5" stroke-dasharray="4,4"/>
<polyline points="672.5,612.5 672.5,646.5"/>
<rect class="f" x="666" y="646" width="13" height="2"/>
<polyline points="662.5,646.5 662.5,648.5 666.5,652.5 678.5,652.5 682.5,648.5 682.5,646.5"/>
<polyline points="672.5,652.5 672.5,696.5"/>
<rect class="f" x="670" y="670" width="5" height="5"/>
<rect class="f" x="666" y="696" width="13" height="2"/>
<polyline points="662.5,696.5 662.5,698.5 666.5,702.5 678.5,702.5 682.5,698.5 682.5,696.5"/>
<polyline points="672.5,702.5 672.5,722.5"/>
<polyline points="692.5,612.5 692.5,634.5"/>
<polyline points="692.5,634.5 687.5,636.5 696.5,640.5 687.5,644.5 696.5,648.5 687.5,652.5 696.5,656.5 692.5,658.5"/>
<polyline points="692.5,658.5 692.5,672.5"/>
<polyline points="692.5,672.5 672.5,672.5"/>
<use href="#g82" x="684" y="679"/><use href="#g50" x="692" y="679"/><use href="#g50" x="700" y="679"/>
<use href="#g51" x="689" y="691"/><use href="#g51" x="697" y="691"/><use href="#g75" x="705" y="691"/>
<use href="#g67" x="669" y="732"/><use href="#g53" x="677" y="732"/>
<use href="#g51" x="667" y="743"/><use href="#g46" x="675" y="743"/><use href="#g51" x="683" y="743"/><use href="#g117" x="691" y="743"/><use href="#g70" x="699" y="743"/>
<use href="#g82" x="734" y="733"/><use href="#g50" x="742" y="733"/><use href="#g51" x="750" y="733"/>
<use href="#g49" x="734" y="744"/><use href="#g48" x="742" y="744"/><use href="#g75" x="750" y="744"/>
<use href="#g50" x="752" y="689"/><use href="#g48" x="760" y="689"/>
<polyline points="742.5,632.5 742.5,647.5"/>
<polyline points="742.5,647.5 737.5,649.5 746.5,653.5 737.5,657.5 746.5,661.5 737.5,665.5 746.5,669.5 742.5,671.5"/>
<polyline points="742.5,671.5 742.5,682.5"/>
<polygon class="f" points="747,662.5 752,658 752,667"/>
<polyline points="752.5,662.5 792.5,662.5 792.5,672.5"/>
<polyline points="792.5,682.5 792.5,702.5"/>
<circle cx="792.5" cy="692.5" r="3"/>
<use href="#g82" x="758" y="634"/><use href="#g69" x="766" y="634"/><use href="#g76" x="774" y="634"/><use href="#g69" x="782" y="634"/><use href="#g83" x="790" y="634"/>
<use href="#g50" x="755" y="648"/><use href="#g53" x="763" y="648"/><use href="#g48" x="771" y="648"/><use href="#g75" x="779" y="648"/><use href="#g76" x="795" y="648"/><use href="#g79" x="803" y="648"/><use href="#g71" x="811" y="648"/>
<use href="#g50" x="801" y="691"/><use href="#g51" x="809" y="691"/>
<use href="#g48" x="782" y="703"/><use href="#g86" x="790" y="703"/>
<use href="#g43" x="511" y="781"/><use href="#g49" x="519" y="781"/><use href="#g53" x="527" y="781"/><use href="#g86" x="535" y="781"/>
<polyline points="524.5,797.5 540.5,797.5"/>
<circle class="f" cx="532.5" cy="797.5" r="1.8"/>
<use href="#g43" x="51" y="852"/><use href="#g53" x="59" y="852"/><use href="#g86" x="67" y="852"/>
<polyline points="64.5,867.5 80.5,867.5"/>
<circle class="f" cx="72.5" cy="867.5" r="1.8"/>
<polyline points="72.5,867.5 72.5,897.5"/>
<polyline points="72.5,897.5 67.5,899.5 76.5,903.5 67.5,907.5 76.5,911.5 67.5,915.5 76.5,919.5 72.5,921.5"/>
<polyline points="72.5,921.5 72.5,932.5"/>
<polygon class="f" points="77,912.5 82,908 82,917"/>
<polyline points="82.5,912.5 93.5,912.5"/>
<circle cx="102.5" cy="912.5" r="3"/>
<use href="#g50" x="101" y="895"/><use href="#g56" x="109" y="895"/>
<use href="#g69" x="24" y="894"/><use href="#g95" x="32" y="894"/><use href="#g116" x="40" y="894"/><use href="#g104" x="48" y="894"/>
<use href="#g50" x="5" y="912"/><use href="#g53" x="13" y="912"/><use href="#g75" x="21" y="912"/><use href="#g76" x="37" y="912"/><use href="#g73" x="45" y="912"/><use href="#g78" x="53" y="912"/>
<circle cx="72.5" cy="942.5" r="3"/>
<use href="#g50" x="79" y="939"/><use href="#g55" x="87" y="939"/>
<polyline points="72.5,945.5 72.5,964.5"/>
<polyline points="72.5,964.5 67.5,966.5 76.5,970.5 67.5,974.5 76.5,978.5 67.5,982.5 76.5,986.5 72.5,988.5"/>
<polyline points="72.5,988.5 72.5,1017.5"/>
<line x1="69.0" y1="1021.0" x2="76.5" y2="1013.5"/>
<use href="#g82" x="89" y="971"/><use href="#g50" x="97" y="971"/><use href="#g56" x="105" y="971"/>
<use href="#g54" x="86" y="986"/><use href="#g46" x="94" y="986"/><use href="#g56" x="102" y="986"/><use href="#g75" x="110" y="986"/>
<polyline points="105.5,912.5 126.5,912.5"/>
<polyline points="126.5,912.5 128.5,916.5 132.5,907.5 136.5,916.5 140.5,907.5 144.5,916.5 148.5,907.5 150.5,912.5"/>
<polyline points="150.5,912.5 162.5,912.5"/>
<use href="#g82" x="128" y="895"/><use href="#g50" x="136" y="895"/><use href="#g53" x="144" y="895"/>
<use href="#g51" x="127" y="922"/><use href="#g48" x="135" y="922"/><use href="#g75" x="143" y="922"/>
<polyline points="262.5,842.5 162.5,842.5 162.5,855.5"/>
<polyline points="162.5,855.5 157.5,857.5 166.5,861.5 157.5,865.5 166.5,869.5 157.5,873.5 166.5,877.5 162.5,879.5"/>
<polyline points="162.5,879.5 162.5,932.5"/>
<polyline points="162.5,932.5 185.5,932.5"/>
<rect class="f" x="160" y="890" width="5" height="5"/>
<rect class="f" x="160" y="910" width="5" height="5"/>
<use href="#g82" x="128" y="855"/><use href="#g51" x="136" y="855"/><use href="#g49" x="144" y="855"/>
<use href="#g51" x="128" y="870"/><use href="#g54" x="136" y="870"/><use href="#g75" x="144" y="870"/>
<polyline points="162.5,892.5 176.5,892.5"/>
<polyline points="176.5,892.5 178.5,896.5 182.5,887.5 186.5,896.5 190.5,887.5 194.5,896.5 198.5,887.5 200.5,892.5"/>
<polyline points="200.5,892.5 212.5,892.5"/>
<rect class="f" x="210" y="890" width="5" height="5"/>
<polyline points="212.5,892.5 223.5,892.5"/>
<polygon class="f" points="223,887 223,898 229,892.5"/>
<rect class="f" x="229" y="887" width="2" height="11"/>
<polyline points="231.5,892.5 242.5,892.5 242.5,942.5 219.5,942.5"/>
<use href="#g82" x="185" y="867"/><use href="#g52" x="193" y="867"/>
<use href="#g55" x="181" y="878"/><use href="#g53" x="189" y="878"/><use href="#g75" x="197" y="878"/>
<use href="#g68" x="232" y="876"/><use href="#g57" x="240" y="876"/>
<polyline points="162.5,912.5 205.5,912.5"/>
<rect class="f" x="205" y="907" width="2" height="11"/>
<polygon class="f" points="213,907 213,918 207,912.5"/>
<polyline points="213.5,912.5 242.5,912.5"/>
<rect class="f" x="240" y="910" width="5" height="5"/>
<use href="#g68" x="209" y="920"/><use href="#g56" x="217" y="920"/>
<polyline points="185.5,925.5 185.5,959.5 219.5,942.5 185.5,925.5"/>
<polyline points="188.5,933.5 194.5,933.5"/>
<polyline points="188.5,951.5 194.5,951.5"/>
<polyline points="191.5,948.5 191.5,954.5"/>
<use href="#g50" x="175" y="923"/>
<use href="#g51" x="175" y="943"/>
<use href="#g49" x="225" y="934"/>
<use href="#g84" x="206" y="955"/><use href="#g51" x="214" y="955"/>
<polyline points="185.5,952.5 162.5,952.5 162.5,965.5"/>
<line x1="159.0" y1="969.0" x2="166.5" y2="961.5"/>
<polyline points="212.5,892.5 212.5,862.5 262.5,862.5 262.5,952.5 336.5,952.5"/>
<rect class="f" x="260" y="890" width="5" height="5"/>
<polyline points="262.5,892.5 276.5,892.5"/>
<polyline points="276.5,892.5 278.5,896.5 282.5,887.5 286.5,896.5 290.5,887.5 294.5,896.5 298.5,887.5 300.5,892.5"/>
<polyline points="300.5,892.5 336.5,892.5"/>
<rect class="f" x="310" y="890" width="5" height="5"/>
<use href="#g82" x="279" y="875"/><use href="#g51" x="287" y="875"/><use href="#g50" x="295" y="875"/>
<use href="#g49" x="277" y="902"/><use href="#g48" x="285" y="902"/><use href="#g75" x="293" y="902"/>
<polyline points="312.5,892.5 312.5,862.5 347.5,862.5"/>
<polyline points="347.5,862.5 349.5,866.5 353.5,857.5 357.5,866.5 361.5,857.5 365.5,866.5 369.5,857.5 371.5,862.5"/>
<polyline points="371.5,862.5 382.5,862.5 382.5,902.5"/>
<rect class="f" x="380" y="900" width="5" height="5"/>
<use href="#g82" x="348" y="845"/><use href="#g51" x="356" y="845"/><use href="#g51" x="364" y="845"/>
<use href="#g49" x="347" y="873"/><use href="#g48" x="355" y="873"/><use href="#g75" x="363" y="873"/>
<polyline points="336.5,885.5 336.5,919.5 370.5,902.5 336.5,885.5"/>
<polyline points="339.5,893.5 345.5,893.5"/>
<polyline points="339.5,911.5 345.5,911.5"/>
<polyline points="342.5,908.5 342.5,914.5"/>
<polyline points="370.5,902.5 397.5,902.5"/>
<use href="#g54" x="323" y="884"/>
<use href="#g53" x="323" y="904"/>
<use href="#g55" x="375" y="894"/>
<use href="#g84" x="357" y="915"/><use href="#g51" x="365" y="915"/>
<polyline points="336.5,912.5 312.5,912.5 312.5,928.5"/>
<line x1="309.0" y1="932.0" x2="316.5" y2="924.5"/>
<polyline points="397.5,902.5 399.5,906.5 403.5,897.5 407.5,906.5 411.5,897.5 415.5,906.5 419.5,897.5 421.5,902.5"/>
<polyline points="421.5,902.5 492.5,902.5 492.5,922.5 505.5,922.5 505.5,924.5"/>
<use href="#g82" x="399" y="885"/><use href="#g51" x="407" y="885"/><use href="#g54" x="415" y="885"/>
<use href="#g49" x="397" y="913"/><use href="#g48" x="405" y="913"/><use href="#g48" x="413" y="913"/>
<polyline points="336.5,945.5 336.5,979.5 370.5,962.5 336.5,945.5"/>
<polyline points="339.5,953.5 345.5,953.5"/>
<polyline points="339.5,971.5 345.5,971.5"/>
<polyline points="342.5,968.5 342.5,974.5"/>
<use href="#g57" x="325" y="943"/>
<use href="#g49" x="316" y="964"/><use href="#g48" x="324" y="964"/>
<use href="#g56" x="374" y="953"/>
<use href="#g84" x="357" y="975"/><use href="#g51" x="365" y="975"/>
<polyline points="370.5,962.5 397.5,962.5"/>
<polyline points="397.5,962.5 399.5,966.5 403.5,957.5 407.5,966.5 411.5,957.5 415.5,966.5 419.5,957.5 421.5,962.5"/>
<polyline points="421.5,962.5 454.5,962.5"/>
<rect class="f" x="430" y="960" width="5" height="5"/>
<use href="#g82" x="399" y="945"/><use href="#g51" x="407" y="945"/><use href="#g53" x="415" y="945"/>
<use href="#g52" x="397" y="972"/><use href="#g46" x="405" y="972"/><use href="#g55" x="413" y="972"/><use href="#g75" x="421" y="972"/>
<polygon class="f" points="454,957 454,968 460,962.5"/>
<rect class="f" x="460" y="957" width="2" height="11"/>
<polyline points="462.5,962.5 492.5,962.5 492.5,942.5 505.5,942.5 505.5,940.5"/>
<use href="#g68" x="448" y="946"/><use href="#g57" x="456" y="946"/>
<polyline points="232.5,985.5 232.5,972.5 276.5,972.5"/>
<polyline points="276.5,972.5 278.5,976.5 282.5,967.5 286.5,976.5 290.5,967.5 294.5,976.5 298.5,967.5 300.5,972.5"/>
<polyline points="300.5,972.5 336.5,972.5"/>
<rect class="f" x="250" y="970" width="5" height="5"/>
<rect class="f" x="310" y="970" width="5" height="5"/>
<use href="#g82" x="279" y="955"/><use href="#g51" x="287" y="955"/><use href="#g57" x="295" y="955"/>
<use href="#g49" x="278" y="982"/><use href="#g53" x="286" y="982"/><use href="#g75" x="294" y="982"/>
<polyline points="232.5,972.5 232.5,985.5"/>
<polyline points="232.5,985.5 227.5,987.5 236.5,991.5 227.5,995.5 236.5,999.5 227.5,1003.5 236.5,1007.5 232.5,1009.5"/>
<polyline points="232.5,1009.5 232.5,1037.5"/>
<line x1="229.0" y1="1041.0" x2="236.5" y2="1033.5"/>
<polyline points="252.5,972.5 252.5,985.5"/>
<polyline points="252.5,985.5 247.5,987.5 256.5,991.5 247.5,995.5 256.5,999.5 247.5,1003.5 256.5,1007.5 252.5,1009.5"/>
<polyline points="252.5,1009.5 252.5,1037.5"/>
<polyline points="244.5,1037.5 260.5,1037.5"/>
<circle class="f" cx="252.5" cy="1037.5" r="1.8"/>
<use href="#g82" x="198" y="991"/><use href="#g52" x="206" y="991"/><use href="#g48" x="214" y="991"/>
<use href="#g51" x="193" y="1006"/><use href="#g46" x="201" y="1006"/><use href="#g51" x="209" y="1006"/><use href="#g75" x="217" y="1006"/>
<use href="#g82" x="264" y="1000"/><use href="#g52" x="272" y="1000"/><use href="#g49" x="280" y="1000"/>
<use href="#g49" x="261" y="1014"/><use href="#g48" x="269" y="1014"/><use href="#g75" x="277" y="1014"/>
<use href="#g45" x="241" y="1049"/><use href="#g53" x="249" y="1049"/><use href="#g86" x="257" y="1049"/>
<polyline points="312.5,972.5 312.5,1002.5 356.5,1002.5"/>
<polyline points="356.5,1002.5 358.5,1006.5 362.5,997.5 366.5,1006.5 370.5,997.5 374.5,1006.5 378.5,997.5 380.5,1002.5"/>
<polyline points="380.5,1002.5 455.5,1002.5"/>
<rect class="f" x="430" y="1000" width="5" height="5"/>
<polyline points="432.5,962.5 432.5,1002.5"/>
<use href="#g82" x="338" y="1013"/><use href="#g51" x="346" y="1013"/><use href="#g56" x="354" y="1013"/>
<use href="#g49" x="372" y="1013"/><use href="#g48" x="380" y="1013"/><use href="#g48" x="388" y="1013"/><use href="#g75" x="396" y="1013"/>
<rect class="f" x="455" y="997" width="2" height="11"/>
<polygon class="f" points="463,997 463,1008 457,1002.5"/>
<polyline points="463.5,1002.5 488.5,1002.5"/>
<line x1="485.5" y1="998.5" x2="492.5" y2="1005.5"/>
<use href="#g68" x="451" y="1009"/><use href="#g49" x="459" y="1009"/><use href="#g49" x="467" y="1009"/>
<use href="#g53" x="442" y="1019"/><use href="#g46" x="450" y="1019"/><use href="#g49" x="458" y="1019"/><use href="#g86" x="466" y="1019"/>
<use href="#g69" x="440" y="915"/><use href="#g88" x="448" y="915"/><use href="#g80" x="456" y="915"/><use href="#g65" x="464" y="915"/><use href="#g78" x="472" y="915"/><use href="#g68" x="480" y="915"/>
<use href="#g71" x="447" y="929"/><use href="#g65" x="455" y="929"/><use href="#g84" x="463" y="929"/><use href="#g69" x="471" y="929"/>
<circle cx="505.5" cy="927.5" r="3"/>
<circle cx="505.5" cy="937.5" r="3"/>
<circle cx="519.5" cy="932.5" r="3"/>
<line x1="508.5" y1="928.5" x2="516.5" y2="931.5"/>
<rect class="f" x="509" y="927" width="2" height="2"/>
<use href="#g51" x="502" y="904"/><use href="#g51" x="510" y="904"/>
<use href="#g51" x="522" y="944"/><use href="#g52" x="530" y="944"/>
<use href="#g51" x="502" y="954"/><use href="#g53" x="510" y="954"/>
<polyline points="522.5,932.5 575.5,932.5"/>
<rect class="f" x="550" y="930" width="5" height="5"/>
<polyline points="552.5,932.5 552.5,944.5"/>
<polyline points="552.5,944.5 547.5,946.5 556.5,950.5 547.5,954.5 556.5,958.5 547.5,962.5 556.5,966.5 552.5,968.5"/>
<polyline points="552.5,968.5 552.5,997.5"/>
<line x1="549.0" y1="1001.0" x2="556.5" y2="993.5"/>
<use href="#g82" x="570" y="951"/><use href="#g51" x="578" y="951"/><use href="#g55" x="586" y="951"/>
<use href="#g49" x="567" y="966"/><use href="#g48" x="575" y="966"/><use href="#g75" x="583" y="966"/>
<polyline points="524.5,797.5 540.5,797.5"/>
<circle class="f" cx="532.5" cy="797.5" r="1.8"/>
<polyline points="532.5,797.5 532.5,826.5"/>
<polyline points="532.5,826.5 527.5,828.5 536.5,832.5 527.5,836.5 536.5,840.5 527.5,844.5 536.5,848.5 532.5,850.5"/>
<polyline points="532.5,850.5 532.5,912.5"/>
<polyline points="532.5,912.5 575.5,912.5"/>
<rect class="f" x="530" y="860" width="5" height="5"/>
<use href="#g82" x="542" y="817"/><use href="#g52" x="550" y="817"/><use href="#g50" x="558" y="817"/>
<use href="#g49" x="538" y="827"/><use href="#g48" x="546" y="827"/><use href="#g48" x="554" y="827"/><use href="#g75" x="562" y="827"/>
<polyline points="482.5,878.5 482.5,862.5 496.5,862.5"/>
<line x1="479.0" y1="882.0" x2="486.5" y2="874.5"/>
<polyline points="496.5,862.5 498.5,866.5 502.5,857.5 506.5,866.5 510.5,857.5 514.5,866.5 518.5,857.5 520.5,862.5"/>
<polyline points="520.5,862.5 546.5,862.5"/>
<use href="#g82" x="499" y="847"/><use href="#g52" x="507" y="847"/><use href="#g50" x="515" y="847"/>
<use href="#g49" x="498" y="872"/><use href="#g48" x="506" y="872"/><use href="#g48" x="514" y="872"/><use href="#g75" x="522" y="872"/>
<polyline points="546.5,862.5 548.5,866.5 552.5,857.5 556.5,866.5 560.5,857.5 564.5,866.5 568.5,857.5 570.5,862.5"/>
<polyline points="570.5,862.5 593.5,862.5"/>
<polygon class="f" points="593,857 593,868 599,862.5"/>
<rect class="f" x="599" y="857" width="2" height="11"/>
<polyline points="601.5,862.5 623.5,862.5"/>
<polygon class="f" points="623,857 623,868 629,862.5"/>
<rect class="f" x="629" y="857" width="2" height="11"/>
<polyline points="631.5,862.5 664.5,862.5"/>
<use href="#g82" x="549" y="847"/><use href="#g52" x="557" y="847"/><use href="#g51" x="565" y="847"/>
<use href="#g49" x="548" y="872"/><use href="#g48" x="556" y="872"/><use href="#g75" x="564" y="872"/>
<use href="#g68" x="588" y="846"/><use href="#g49" x="596" y="846"/><use href="#g52" x="604" y="846"/>
<use href="#g68" x="618" y="846"/><use href="#g49" x="626" y="846"/><use href="#g50" x="634" y="846"/>
<use href="#g68" x="655" y="847"/><use href="#g49" x="663" y="847"/><use href="#g51" x="671" y="847"/>
<rect class="f" x="650" y="860" width="5" height="5"/>
<rect class="f" x="664" y="857" width="2" height="11"/>
<polygon class="f" points="672,857 672,868 666,862.5"/>
<polyline points="672.5,862.5 712.5,862.5 712.5,885.5"/>
<rect class="f" x="690" y="860" width="5" height="5"/>
<polyline points="575.5,905.5 575.5,939.5 609.5,922.5 575.5,905.5"/>
<polyline points="578.5,913.5 584.5,913.5"/>
<polyline points="578.5,931.5 584.5,931.5"/>
<polyline points="581.5,928.5 581.5,934.5"/>
<use href="#g49" x="555" y="904"/><use href="#g51" x="563" y="904"/>
<use href="#g49" x="555" y="924"/><use href="#g50" x="563" y="924"/>
<use href="#g49" x="614" y="914"/><use href="#g52" x="622" y="914"/>
<use href="#g84" x="597" y="935"/><use href="#g51" x="605" y="935"/>
<polyline points="609.5,922.5 642.5,922.5"/>
<rect class="f" x="642" y="912" width="2" height="21"/>
<polyline points="652.5,862.5 652.5,912.5 644.5,918.5"/>
<polyline points="644.5,927.5 652.5,932.5 652.5,957.5"/>
<polyline points="644.5,957.5 660.5,957.5"/>
<circle class="f" cx="652.5" cy="957.5" r="1.8"/>
<polygon class="f" points="644,917 650,914 649,920"/>
<use href="#g84" x="624" y="939"/><use href="#g82" x="632" y="939"/><use href="#g52" x="640" y="939"/>
<use href="#g45" x="641" y="969"/><use href="#g49" x="649" y="969"/><use href="#g53" x="657" y="969"/><use href="#g86" x="665" y="969"/>
<polyline points="692.5,862.5 692.5,885.5"/>
<polyline points="692.5,885.5 687.5,887.5 696.5,891.5 687.5,895.5 696.5,899.5 687.5,903.5 696.5,907.5 692.5,909.5"/>
<polyline points="692.5,909.5 692.5,932.5"/>
<polyline points="692.5,932.5 694.5,934.5"/>
<circle cx="697.5" cy="934.5" r="3"/>
<polyline points="712.5,862.5 712.5,885.5"/>
<polyline points="712.5,885.5 707.5,887.5 716.5,891.5 707.5,895.5 716.5,899.5 707.5,903.5 716.5,907.5 712.5,909.5"/>
<polyline points="712.5,909.5 712.5,931.5"/>
<circle cx="708.5" cy="934.5" r="3"/>
<circle cx="702.5" cy="949.5" r="3"/>
<polyline points="703.5,946.5 707.5,937.5"/>
<use href="#g82" x="661" y="891"/><use href="#g52" x="669" y="891"/><use href="#g52" x="677" y="891"/>
<use href="#g49" x="669" y="904"/>
<use href="#g82" x="724" y="891"/><use href="#g52" x="732" y="891"/><use href="#g53" x="740" y="891"/>
<use href="#g49" x="731" y="903"/><use href="#g48" x="739" y="903"/><use href="#g48" x="747" y="903"/>
<use href="#g70" x="657" y="931"/><use href="#g65" x="665" y="931"/><use href="#g83" x="673" y="931"/><use href="#g84" x="681" y="931"/>
<use href="#g52" x="672" y="944"/><use href="#g52" x="680" y="944"/>
<use href="#g65" x="721" y="931"/><use href="#g85" x="729" y="931"/><use href="#g84" x="737" y="931"/><use href="#g79" x="745" y="931"/>
<use href="#g52" x="722" y="944"/><use href="#g53" x="730" y="944"/>
<use href="#g52" x="682" y="964"/><use href="#g56" x="690" y="964"/>
<polyline points="702.5,952.5 702.5,996.5"/>
<rect class="f" x="700" y="970" width="5" height="5"/>
<rect class="f" x="696" y="996" width="13" height="2"/>
<polyline points="692.5,996.5 692.5,998.5 696.5,1002.5 708.5,1002.5 712.5,998.5 712.5,996.5"/>
<polyline points="702.5,1002.5 702.5,1025.5"/>
<line x1="699.0" y1="1029.0" x2="706.5" y2="1021.5"/>
<use href="#g67" x="717" y="993"/><use href="#g57" x="725" y="993"/>
<use href="#g54" x="716" y="1004"/><use href="#g46" x="724" y="1004"/><use href="#g56" x="732" y="1004"/><use href="#g117" x="740" y="1004"/><use href="#g70" x="748" y="1004"/>
<polyline points="702.5,972.5 762.5,972.5 762.5,932.5 785.5,932.5"/>
<rect class="f" x="760" y="950" width="5" height="5"/>
<polyline points="702.5,805.5 702.5,782.5 717.5,782.5"/>
<line x1="699.0" y1="809.0" x2="706.5" y2="801.5"/>
<polyline points="717.5,782.5 719.5,786.5 723.5,777.5 727.5,786.5 731.5,777.5 735.5,786.5 739.5,777.5 741.5,782.5"/>
<polyline points="741.5,782.5 806.5,782.5"/>
<rect class="f" x="760" y="780" width="5" height="5"/>
<use href="#g53" x="708" y="795"/><use href="#g46" x="716" y="795"/><use href="#g49" x="724" y="795"/><use href="#g107" x="732" y="795"/>
<use href="#g49" x="802" y="767"/><use href="#g48" x="810" y="767"/><use href="#g48" x="818" y="767"/><use href="#g107" x="826" y="767"/>
<use href="#g56" x="798" y="825"/><use href="#g46" x="806" y="825"/><use href="#g50" x="814" y="825"/><use href="#g107" x="822" y="825"/>
<polyline points="806.5,782.5 808.5,786.5 812.5,777.5 816.5,786.5 820.5,777.5 824.5,786.5 828.5,777.5 830.5,782.5"/>
<polyline points="830.5,782.5 875.5,782.5"/>
<rect class="f" x="860" y="780" width="5" height="5"/>
<rect class="f" x="875" y="777" width="2" height="11"/>
<polygon class="f" points="883,777 883,788 877,782.5"/>
<polyline points="883.5,782.5 903.5,782.5"/>
<rect class="f" x="890" y="780" width="5" height="5"/>
<polygon class="f" points="903,777 903,788 909,782.5"/>
<rect class="f" x="909" y="777" width="2" height="11"/>
<polyline points="911.5,782.5 922.5,782.5"/>
<use href="#g68" x="860" y="764"/><use href="#g49" x="868" y="764"/><use href="#g53" x="876" y="764"/>
<use href="#g68" x="898" y="766"/><use href="#g49" x="906" y="766"/><use href="#g54" x="914" y="766"/>
<polyline points="862.5,782.5 862.5,802.5 912.5,802.5"/>
<polyline points="762.5,782.5 762.5,912.5"/>
<polyline points="762.5,912.5 785.5,912.5"/>
<rect class="f" x="760" y="810" width="5" height="5"/>
<polyline points="762.5,812.5 806.5,812.5"/>
<polyline points="806.5,812.5 808.5,816.5 812.5,807.5 816.5,816.5 820.5,807.5 824.5,816.5 828.5,807.5 830.5,812.5"/>
<polyline points="830.5,812.5 892.5,812.5"/>
<rect class="f" x="890" y="810" width="5" height="5"/>
<polyline points="892.5,782.5 892.5,954.5"/>
<rect class="f" x="890" y="940" width="5" height="5"/>
<polyline points="892.5,954.5 887.5,956.5 896.5,960.5 887.5,964.5 896.5,968.5 887.5,972.5 896.5,976.5 892.5,978.5"/>
<polyline points="892.5,978.5 892.5,1007.5"/>
<polyline points="884.5,1007.5 900.5,1007.5"/>
<circle class="f" cx="892.5" cy="1007.5" r="1.8"/>
<use href="#g82" x="854" y="985"/><use href="#g52" x="862" y="985"/><use href="#g57" x="870" y="985"/>
<use href="#g49" x="864" y="995"/><use href="#g48" x="872" y="995"/><use href="#g75" x="880" y="995"/>
<use href="#g45" x="882" y="1019"/><use href="#g49" x="890" y="1019"/><use href="#g53" x="898" y="1019"/><use href="#g86" x="906" y="1019"/>
<use href="#g43" x="841" y="822"/><use href="#g49" x="849" y="822"/><use href="#g53" x="857" y="822"/><use href="#g86" x="865" y="822"/>
<polyline points="854.5,837.5 870.5,837.5"/>
<circle class="f" cx="862.5" cy="837.5" r="1.8"/>
<polyline points="862.5,837.5 862.5,866.5"/>
<polyline points="862.5,866.5 857.5,868.5 866.5,872.5 857.5,876.5 866.5,880.5 857.5,884.5 866.5,888.5 862.5,890.5"/>
<polyline points="862.5,890.5 862.5,912.5"/>
<use href="#g82" x="829" y="854"/><use href="#g52" x="837" y="854"/><use href="#g56" x="845" y="854"/>
<use href="#g49" x="826" y="865"/><use href="#g48" x="834" y="865"/><use href="#g48" x="842" y="865"/>
<use href="#g84" x="822" y="884"/><use href="#g82" x="830" y="884"/><use href="#g51" x="838" y="884"/>
<use href="#g66" x="821" y="895"/><use href="#g67" x="829" y="895"/><use href="#g49" x="837" y="895"/><use href="#g56" x="845" y="895"/><use href="#g52" x="853" y="895"/>
<polyline points="785.5,905.5 785.5,939.5 819.5,922.5 785.5,905.5"/>
<polyline points="788.5,913.5 794.5,913.5"/>
<polyline points="788.5,931.5 794.5,931.5"/>
<polyline points="791.5,928.5 791.5,934.5"/>
<use href="#g49" x="766" y="903"/><use href="#g51" x="774" y="903"/>
<use href="#g49" x="766" y="923"/><use href="#g50" x="774" y="923"/>
<use href="#g84" x="794" y="919"/><use href="#g52" x="802" y="919"/>
<use href="#g49" x="824" y="913"/><use href="#g52" x="832" y="913"/>
<polyline points="819.5,922.5 852.5,922.5"/>
<rect class="f" x="852" y="912" width="2" height="21"/>
<polyline points="854.5,918.5 862.5,912.5"/>
<polyline points="854.5,926.5 862.5,931.5 862.5,942.5 892.5,942.5"/>
<polygon class="f" points="863,932 857,932 861,926"/>
<use href="#g43" x="827" y="944"/><use href="#g53" x="835" y="944"/><use href="#g86" x="843" y="944"/>
<polyline points="814.5,937.5 830.5,937.5"/>
<circle class="f" cx="822.5" cy="937.5" r="1.8"/>
<polyline points="822.5,937.5 822.5,965.5"/>
<polyline points="822.5,965.5 817.5,967.5 826.5,971.5 817.5,975.5 826.5,979.5 817.5,983.5 826.5,987.5 822.5,989.5"/>
<polyline points="822.5,989.5 822.5,1009.5"/>
<circle cx="822.5" cy="1012.5" r="3"/>
<use href="#g82" x="832" y="960"/><use href="#g51" x="840" y="960"/><use href="#g52" x="848" y="960"/>
<use href="#g52" x="833" y="974"/><use href="#g46" x="841" y="974"/><use href="#g55" x="849" y="974"/><use href="#g75" x="857" y="974"/>
<polyline points="762.5,952.5 792.5,952.5 792.5,966.5"/>
<polyline points="792.5,952.5 792.5,966.5"/>
<polyline points="792.5,966.5 787.5,968.5 796.5,972.5 787.5,976.5 796.5,980.5 787.5,984.5 796.5,988.5 792.5,990.5"/>
<polyline points="792.5,990.5 792.5,1009.5"/>
<circle cx="792.5" cy="1012.5" r="3"/>
<use href="#g82" x="761" y="980"/><use href="#g52" x="769" y="980"/><use href="#g55" x="777" y="980"/>
<use href="#g49" x="761" y="991"/><use href="#g48" x="769" y="991"/><use href="#g75" x="777" y="991"/>
<use href="#g52" x="799" y="999"/><use href="#g55" x="807" y="999"/>
<use href="#g51" x="829" y="999"/><use href="#g49" x="837" y="999"/>
<polyline points="792.5,1022.5 792.5,1049.5"/>
<rect class="f" x="790" y="1030" width="5" height="5"/>
<polyline points="792.5,1032.5 762.5,1032.5 762.5,1052.5"/>
<polyline points="792.5,1049.5 787.5,1051.5 796.5,1055.5 787.5,1059.5 796.5,1063.5 787.5,1067.5 796.5,1071.5 792.5,1073.5"/>
<polyline points="792.5,1073.5 792.5,1082.5"/>
<polyline points="822.5,1022.5 822.5,1049.5"/>
<polyline points="822.5,1049.5 817.5,1051.5 826.5,1055.5 817.5,1059.5 826.5,1063.5 817.5,1067.5 826.5,1071.5 822.5,1073.5"/>
<polyline points="822.5,1073.5 822.5,1098.5"/>
<line x1="819.0" y1="1102.0" x2="826.5" y2="1094.5"/>
<polyline points="800.5,1062.5 814.5,1062.5"/>
<polygon class="f" points="796,1062.5 801,1058 801,1067"/>
<polygon class="f" points="819,1062.5 814,1058 814,1067"/>
<use href="#g40" x="702" y="1064"/><use href="#g80" x="710" y="1064"/><use href="#g49" x="718" y="1064"/><use href="#g49" x="726" y="1064"/><use href="#g111" x="742" y="1064"/><use href="#g117" x="750" y="1064"/><use href="#g116" x="758" y="1064"/><use href="#g41" x="766" y="1064"/>
<use href="#g82" x="833" y="1074"/><use href="#g65" x="841" y="1074"/><use href="#g78" x="849" y="1074"/><use href="#g71" x="857" y="1074"/><use href="#g69" x="865" y="1074"/>
<use href="#g50" x="833" y="1084"/><use href="#g53" x="841" y="1084"/><use href="#g75" x="849" y="1084"/><use href="#g76" x="865" y="1084"/><use href="#g73" x="873" y="1084"/><use href="#g78" x="881" y="1084"/>
<use href="#g50" x="745" y="1093"/><use href="#g53" x="753" y="1093"/><use href="#g48" x="761" y="1093"/><use href="#g75" x="769" y="1093"/><use href="#g76" x="785" y="1093"/><use href="#g111" x="793" y="1093"/><use href="#g103" x="801" y="1093"/>
<use href="#g82" x="751" y="1105"/><use href="#g69" x="759" y="1105"/><use href="#g76" x="767" y="1105"/><use href="#g69" x="775" y="1105"/><use href="#g65" x="783" y="1105"/><use href="#g83" x="791" y="1105"/><use href="#g69" x="799" y="1105"/>
<polyline points="62.5,1172.5 902.5,1172.5"/>
<polyline points="222.5,1222.5 222.5,1192.5 942.5,1192.5 942.5,1177.5"/>
<polyline points="934.5,1177.5 950.5,1177.5"/>
<circle class="f" cx="942.5" cy="1177.5" r="1.8"/>
<use href="#g43" x="921" y="1162"/><use href="#g49" x="929" y="1162"/><use href="#g53" x="937" y="1162"/><use href="#g86" x="945" y="1162"/>
<polyline points="12.5,1196.5 12.5,1162.5 42.5,1162.5 42.5,1176.5"/>
<line x1="9.0" y1="1200.0" x2="16.5" y2="1192.5"/>
<polyline points="42.5,1176.5 37.5,1178.5 46.5,1182.5 37.5,1186.5 46.5,1190.5 37.5,1194.5 46.5,1198.5 42.5,1200.5"/>
<polyline points="42.5,1200.5 42.5,1342.5"/>
<use href="#g55" x="54" y="1158"/><use href="#g46" x="62" y="1158"/><use href="#g53" x="70" y="1158"/><use href="#g75" x="78" y="1158"/>
<rect class="f" x="40" y="1230" width="5" height="5"/>
<rect class="f" x="40" y="1310" width="5" height="5"/>
<polyline points="42.5,1232.5 85.5,1232.5"/>
<polyline points="42.5,1312.5 85.5,1312.5"/>
<polyline points="42.5,1342.5 146.5,1342.5"/>
<polyline points="170.5,1342.5 306.5,1342.5"/>
<polyline points="330.5,1342.5 486.5,1342.5"/>
<polyline points="510.5,1342.5 656.5,1342.5"/>
<polyline points="680.5,1342.5 826.5,1342.5"/>
<polyline points="850.5,1342.5 942.5,1342.5 942.5,1327.5"/>
<polyline points="934.5,1327.5 950.5,1327.5"/>
<circle class="f" cx="942.5" cy="1327.5" r="1.8"/>
<use href="#g43" x="921" y="1312"/><use href="#g53" x="929" y="1312"/><use href="#g86" x="937" y="1312"/>
<polyline points="85.5,1205.5 85.5,1239.5 119.5,1222.5 85.5,1205.5"/>
<polyline points="88.5,1213.5 94.5,1213.5"/>
<polyline points="88.5,1231.5 94.5,1231.5"/>
<polyline points="91.5,1228.5 91.5,1234.5"/>
<polyline points="85.5,1285.5 85.5,1319.5 119.5,1302.5 85.5,1285.5"/>
<polyline points="88.5,1293.5 94.5,1293.5"/>
<polyline points="88.5,1311.5 94.5,1311.5"/>
<polyline points="91.5,1308.5 91.5,1314.5"/>
<polyline points="62.5,1172.5 62.5,1212.5 85.5,1212.5"/>
<polyline points="72.5,1292.5 85.5,1292.5"/>
<polyline points="119.5,1222.5 146.5,1222.5"/>
<polyline points="146.5,1222.5 148.5,1226.5 152.5,1217.5 156.5,1226.5 160.5,1217.5 164.5,1226.5 168.5,1217.5 170.5,1222.5"/>
<polyline points="170.5,1222.5 192.5,1222.5"/>
<circle cx="192.5" cy="1222.5" r="3"/>
<polyline points="195.5,1222.5 204.5,1222.5"/>
<rect class="f" x="204" y="1217" width="2" height="11"/>
<polygon class="f" points="212,1217 212,1228 206,1222.5"/>
<polyline points="206.5,1217.5 210.5,1213.5 208.5,1211.5 211.5,1208.5"/>
<polyline points="209.5,1208.5 211.5,1208.5 211.5,1210.5"/>
<polyline points="212.5,1222.5 222.5,1222.5"/>
<use href="#g51" x="151" y="1206"/><use href="#g75" x="159" y="1206"/>
<use href="#g53" x="182" y="1204"/><use href="#g56" x="190" y="1204"/>
<polyline points="119.5,1302.5 146.5,1302.5"/>
<polyline points="146.5,1302.5 148.5,1306.5 152.5,1297.5 156.5,1306.5 160.5,1297.5 164.5,1306.5 168.5,1297.5 170.5,1302.5"/>
<polyline points="170.5,1302.5 192.5,1302.5"/>
<circle cx="192.5" cy="1302.5" r="3"/>
<polyline points="195.5,1302.5 204.5,1302.5"/>
<rect class="f" x="204" y="1297" width="2" height="11"/>
<polygon class="f" points="212,1297 212,1308 206,1302.5"/>
<polyline points="206.5,1297.5 210.5,1293.5 208.5,1291.5 211.5,1288.5"/>
<polyline points="209.5,1288.5 211.5,1288.5 211.5,1290.5"/>
<polyline points="212.5,1302.5 222.5,1302.5"/>
<use href="#g51" x="151" y="1286"/><use href="#g75" x="159" y="1286"/>
<use href="#g53" x="182" y="1284"/><use href="#g56" x="190" y="1284"/>
<polyline points="222.5,1192.5 222.5,1302.5"/>
<rect class="f" x="220" y="1220" width="5" height="5"/>
<use href="#g57" x="73" y="1204"/>
<use href="#g49" x="65" y="1224"/><use href="#g48" x="73" y="1224"/>
<use href="#g56" x="124" y="1214"/>
<use href="#g84" x="106" y="1235"/><use href="#g55" x="114" y="1235"/>
<use href="#g49" x="65" y="1284"/><use href="#g51" x="73" y="1284"/>
<use href="#g49" x="65" y="1304"/><use href="#g50" x="73" y="1304"/>
<use href="#g49" x="124" y="1294"/><use href="#g52" x="132" y="1294"/>
<use href="#g84" x="106" y="1315"/><use href="#g55" x="114" y="1315"/>
<use href="#g51" x="197" y="1231"/><use href="#g100" x="205" y="1231"/><use href="#g66" x="213" y="1231"/>
<polyline points="255.5,1205.5 255.5,1239.5 289.5,1222.5 255.5,1205.5"/>
<polyline points="258.5,1213.5 264.5,1213.5"/>
<polyline points="258.5,1231.5 264.5,1231.5"/>
<polyline points="261.5,1228.5 261.5,1234.5"/>
<polyline points="255.5,1285.5 255.5,1319.5 289.5,1302.5 255.5,1285.5"/>
<polyline points="258.5,1293.5 264.5,1293.5"/>
<polyline points="258.5,1311.5 264.5,1311.5"/>
<polyline points="261.5,1308.5 261.5,1314.5"/>
<polyline points="232.5,1172.5 232.5,1212.5 255.5,1212.5"/>
<polyline points="232.5,1232.5 255.5,1232.5"/>
<polyline points="232.5,1232.5 232.5,1342.5"/>
<polyline points="232.5,1312.5 255.5,1312.5"/>
<rect class="f" x="230" y="1310" width="5" height="5"/>
<rect class="f" x="230" y="1340" width="5" height="5"/>
<polyline points="242.5,1292.5 255.5,1292.5"/>
<polyline points="289.5,1222.5 316.5,1222.5"/>
<polyline points="316.5,1222.5 318.5,1226.5 322.5,1217.5 326.5,1226.5 330.5,1217.5 334.5,1226.5 338.5,1217.5 340.5,1222.5"/>
<polyline points="340.5,1222.5 362.5,1222.5"/>
<circle cx="362.5" cy="1222.5" r="3"/>
<polyline points="365.5,1222.5 374.5,1222.5"/>
<rect class="f" x="374" y="1217" width="2" height="11"/>
<polygon class="f" points="382,1217 382,1228 376,1222.5"/>
<polyline points="376.5,1217.5 380.5,1213.5 378.5,1211.5 381.5,1208.5"/>
<polyline points="379.5,1208.5 381.5,1208.5 381.5,1210.5"/>
<polyline points="382.5,1222.5 392.5,1222.5"/>
<use href="#g51" x="321" y="1206"/><use href="#g75" x="329" y="1206"/>
<use href="#g53" x="352" y="1204"/><use href="#g56" x="360" y="1204"/>
<polyline points="289.5,1302.5 316.5,1302.5"/>
<polyline points="316.5,1302.5 318.5,1306.5 322.5,1297.5 326.5,1306.5 330.5,1297.5 334.5,1306.5 338.5,1297.5 340.5,1302.5"/>
<polyline points="340.5,1302.5 362.5,1302.5"/>
<circle cx="362.5" cy="1302.5" r="3"/>
<polyline points="365.5,1302.5 374.5,1302.5"/>
<rect class="f" x="374" y="1297" width="2" height="11"/>
<polygon class="f" points="382,1297 382,1308 376,1302.5"/>
<polyline points="376.5,1297.5 380.5,1293.5 378.5,1291.5 381.5,1288.5"/>
<polyline points="379.5,1288.5 381.5,1288.5 381.5,1290.5"/>
<polyline points="382.5,1302.5 392.5,1302.5"/>
<use href="#g51" x="321" y="1286"/><use href="#g75" x="329" y="1286"/>
<use href="#g53" x="352" y="1284"/><use href="#g56" x="360" y="1284"/>
<polyline points="392.5,1192.5 392.5,1302.5"/>
<rect class="f" x="390" y="1220" width="5" height="5"/>
<rect class="f" x="390" y="1190" width="5" height="5"/>
<use href="#g57" x="243" y="1204"/>
<use href="#g49" x="235" y="1224"/><use href="#g48" x="243" y="1224"/>
<use href="#g56" x="294" y="1214"/>
<use href="#g84" x="276" y="1235"/><use href="#g54" x="284" y="1235"/>
<use href="#g49" x="235" y="1284"/><use href="#g51" x="243" y="1284"/>
<use href="#g49" x="235" y="1304"/><use href="#g50" x="243" y="1304"/>
<use href="#g49" x="294" y="1294"/><use href="#g52" x="302" y="1294"/>
<use href="#g84" x="276" y="1315"/><use href="#g54" x="284" y="1315"/>
<use href="#g54" x="367" y="1231"/><use href="#g100" x="375" y="1231"/><use href="#g66" x="383" y="1231"/>
<polyline points="425.5,1205.5 425.5,1239.5 459.5,1222.5 425.5,1205.5"/>
<polyline points="428.5,1213.5 434.5,1213.5"/>
<polyline points="428.5,1231.5 434.5,1231.5"/>
<polyline points="431.5,1228.5 431.5,1234.5"/>
<polyline points="425.5,1285.5 425.5,1319.5 459.5,1302.5 425.5,1285.5"/>
<polyline points="428.5,1293.5 434.5,1293.5"/>
<polyline points="428.5,1311.5 434.5,1311.5"/>
<polyline points="431.5,1308.5 431.5,1314.5"/>
<polyline points="402.5,1172.5 402.5,1212.5 425.5,1212.5"/>
<polyline points="402.5,1232.5 425.5,1232.5"/>
<polyline points="402.5,1232.5 402.5,1342.5"/>
<polyline points="402.5,1312.5 425.5,1312.5"/>
<rect class="f" x="400" y="1310" width="5" height="5"/>
<rect class="f" x="400" y="1340" width="5" height="5"/>
<polyline points="412.5,1292.5 425.5,1292.5"/>
<polyline points="459.5,1222.5 486.5,1222.5"/>
<polyline points="486.5,1222.5 488.5,1226.5 492.5,1217.5 496.5,1226.5 500.5,1217.5 504.5,1226.5 508.5,1217.5 510.5,1222.5"/>
<polyline points="510.5,1222.5 532.5,1222.5"/>
<circle cx="532.5" cy="1222.5" r="3"/>
<polyline points="535.5,1222.5 544.5,1222.5"/>
<rect class="f" x="544" y="1217" width="2" height="11"/>
<polygon class="f" points="552,1217 552,1228 546,1222.5"/>
<polyline points="546.5,1217.5 550.5,1213.5 548.5,1211.5 551.5,1208.5"/>
<polyline points="549.5,1208.5 551.5,1208.5 551.5,1210.5"/>
<polyline points="552.5,1222.5 562.5,1222.5"/>
<use href="#g51" x="491" y="1206"/><use href="#g75" x="499" y="1206"/>
<use href="#g53" x="522" y="1204"/><use href="#g56" x="530" y="1204"/>
<polyline points="459.5,1302.5 486.5,1302.5"/>
<polyline points="486.5,1302.5 488.5,1306.5 492.5,1297.5 496.5,1306.5 500.5,1297.5 504.5,1306.5 508.5,1297.5 510.5,1302.5"/>
<polyline points="510.5,1302.5 532.5,1302.5"/>
<circle cx="532.5" cy="1302.5" r="3"/>
<polyline points="535.5,1302.5 544.5,1302.5"/>
<rect class="f" x="544" y="1297" width="2" height="11"/>
<polygon class="f" points="552,1297 552,1308 546,1302.5"/>
<polyline points="546.5,1297.5 550.5,1293.5 548.5,1291.5 551.5,1288.5"/>
<polyline points="549.5,1288.5 551.5,1288.5 551.5,1290.5"/>
<polyline points="552.5,1302.5 562.5,1302.5"/>
<use href="#g51" x="491" y="1286"/><use href="#g75" x="499" y="1286"/>
<use href="#g53" x="522" y="1284"/><use href="#g56" x="530" y="1284"/>
<polyline points="562.5,1192.5 562.5,1302.5"/>
<rect class="f" x="560" y="1220" width="5" height="5"/>
<rect class="f" x="560" y="1190" width="5" height="5"/>
<use href="#g54" x="413" y="1204"/>
<use href="#g53" x="413" y="1224"/>
<use href="#g55" x="464" y="1214"/>
<use href="#g84" x="446" y="1235"/><use href="#g54" x="454" y="1235"/>
<use href="#g50" x="413" y="1284"/>
<use href="#g51" x="413" y="1304"/>
<use href="#g49" x="464" y="1294"/>
<use href="#g84" x="446" y="1315"/><use href="#g54" x="454" y="1315"/>
<use href="#g49" x="537" y="1231"/><use href="#g48" x="545" y="1231"/><use href="#g100" x="553" y="1231"/><use href="#g66" x="561" y="1231"/>
<polyline points="595.5,1205.5 595.5,1239.5 629.5,1222.5 595.5,1205.5"/>
<polyline points="598.5,1213.5 604.5,1213.5"/>
<polyline points="598.5,1231.5 604.5,1231.5"/>
<polyline points="601.5,1228.5 601.5,1234.5"/>
<polyline points="595.5,1285.5 595.5,1319.5 629.5,1302.5 595.5,1285.5"/>
<polyline points="598.5,1293.5 604.5,1293.5"/>
<polyline points="598.5,1311.5 604.5,1311.5"/>
<polyline points="601.5,1308.5 601.5,1314.5"/>
<polyline points="572.5,1172.5 572.5,1212.5 595.5,1212.5"/>
<polyline points="572.5,1232.5 595.5,1232.5"/>
<polyline points="572.5,1232.5 572.5,1342.5"/>
<polyline points="572.5,1312.5 595.5,1312.5"/>
<rect class="f" x="570" y="1310" width="5" height="5"/>
<rect class="f" x="570" y="1340" width="5" height="5"/>
<polyline points="582.5,1292.5 595.5,1292.5"/>
<polyline points="629.5,1222.5 656.5,1222.5"/>
<polyline points="656.5,1222.5 658.5,1226.5 662.5,1217.5 666.5,1226.5 670.5,1217.5 674.5,1226.5 678.5,1217.5 680.5,1222.5"/>
<polyline points="680.5,1222.5 702.5,1222.5"/>
<circle cx="702.5" cy="1222.5" r="3"/>
<polyline points="705.5,1222.5 714.5,1222.5"/>
<rect class="f" x="714" y="1217" width="2" height="11"/>
<polygon class="f" points="722,1217 722,1228 716,1222.5"/>
<polyline points="716.5,1217.5 720.5,1213.5 718.5,1211.5 721.5,1208.5"/>
<polyline points="719.5,1208.5 721.5,1208.5 721.5,1210.5"/>
<polyline points="722.5,1222.5 732.5,1222.5"/>
<use href="#g51" x="661" y="1206"/><use href="#g75" x="669" y="1206"/>
<use href="#g53" x="692" y="1204"/><use href="#g56" x="700" y="1204"/>
<polyline points="629.5,1302.5 656.5,1302.5"/>
<polyline points="656.5,1302.5 658.5,1306.5 662.5,1297.5 666.5,1306.5 670.5,1297.5 674.5,1306.5 678.5,1297.5 680.5,1302.5"/>
<polyline points="680.5,1302.5 702.5,1302.5"/>
<circle cx="702.5" cy="1302.5" r="3"/>
<polyline points="705.5,1302.5 714.5,1302.5"/>
<rect class="f" x="714" y="1297" width="2" height="11"/>
<polygon class="f" points="722,1297 722,1308 716,1302.5"/>
<polyline points="716.5,1297.5 720.5,1293.5 718.5,1291.5 721.5,1288.5"/>
<polyline points="719.5,1288.5 721.5,1288.5 721.5,1290.5"/>
<polyline points="722.5,1302.5 732.5,1302.5"/>
<use href="#g51" x="661" y="1286"/><use href="#g75" x="669" y="1286"/>
<use href="#g53" x="692" y="1284"/><use href="#g56" x="700" y="1284"/>
<polyline points="732.5,1192.5 732.5,1302.5"/>
<rect class="f" x="730" y="1220" width="5" height="5"/>
<rect class="f" x="730" y="1190" width="5" height="5"/>
<use href="#g57" x="583" y="1204"/>
<use href="#g49" x="575" y="1224"/><use href="#g48" x="583" y="1224"/>
<use href="#g56" x="634" y="1214"/>
<use href="#g84" x="616" y="1235"/><use href="#g53" x="624" y="1235"/>
<use href="#g49" x="575" y="1284"/><use href="#g51" x="583" y="1284"/>
<use href="#g49" x="575" y="1304"/><use href="#g50" x="583" y="1304"/>
<use href="#g49" x="634" y="1294"/><use href="#g52" x="642" y="1294"/>
<use href="#g84" x="616" y="1315"/><use href="#g53" x="624" y="1315"/>
<use href="#g49" x="706" y="1231"/><use href="#g52" x="714" y="1231"/><use href="#g100" x="722" y="1231"/><use href="#g66" x="730" y="1231"/>
<polyline points="765.5,1205.5 765.5,1239.5 799.5,1222.5 765.5,1205.5"/>
<polyline points="768.5,1213.5 774.5,1213.5"/>
<polyline points="768.5,1231.5 774.5,1231.5"/>
<polyline points="771.5,1228.5 771.5,1234.5"/>
<polyline points="765.5,1285.5 765.5,1319.5 799.5,1302.5 765.5,1285.5"/>
<polyline points="768.5,1293.5 774.5,1293.5"/>
<polyline points="768.5,1311.5 774.5,1311.5"/>
<polyline points="771.5,1308.5 771.5,1314.5"/>
<polyline points="742.5,1172.5 742.5,1212.5 765.5,1212.5"/>
<polyline points="742.5,1232.5 765.5,1232.5"/>
<polyline points="742.5,1232.5 742.5,1342.5"/>
<polyline points="742.5,1312.5 765.5,1312.5"/>
<rect class="f" x="740" y="1310" width="5" height="5"/>
<rect class="f" x="740" y="1340" width="5" height="5"/>
<polyline points="752.5,1292.5 765.5,1292.5"/>
<polyline points="799.5,1222.5 826.5,1222.5"/>
<polyline points="826.5,1222.5 828.5,1226.5 832.5,1217.5 836.5,1226.5 840.5,1217.5 844.5,1226.5 848.5,1217.5 850.5,1222.5"/>
<polyline points="850.5,1222.5 872.5,1222.5"/>
<circle cx="872.5" cy="1222.5" r="3"/>
<polyline points="875.5,1222.5 884.5,1222.5"/>
<rect class="f" x="884" y="1217" width="2" height="11"/>
<polygon class="f" points="892,1217 892,1228 886,1222.5"/>
<polyline points="886.5,1217.5 890.5,1213.5 888.5,1211.5 891.5,1208.5"/>
<polyline points="889.5,1208.5 891.5,1208.5 891.5,1210.5"/>
<polyline points="892.5,1222.5 902.5,1222.5"/>
<use href="#g51" x="831" y="1206"/><use href="#g75" x="839" y="1206"/>
<use href="#g53" x="862" y="1204"/><use href="#g56" x="870" y="1204"/>
<polyline points="799.5,1302.5 826.5,1302.5"/>
<polyline points="826.5,1302.5 828.5,1306.5 832.5,1297.5 836.5,1306.5 840.5,1297.5 844.5,1306.5 848.5,1297.5 850.5,1302.5"/>
<polyline points="850.5,1302.5 872.5,1302.5"/>
<circle cx="872.5" cy="1302.5" r="3"/>
<polyline points="875.5,1302.5 884.5,1302.5"/>
<rect class="f" x="884" y="1297" width="2" height="11"/>
<polygon class="f" points="892,1297 892,1308 886,1302.5"/>
<polyline points="886.5,1297.5 890.5,1293.5 888.5,1291.5 891.5,1288.5"/>
<polyline points="889.5,1288.5 891.5,1288.5 891.5,1290.5"/>
<polyline points="892.5,1302.5 902.5,1302.5"/>
<use href="#g51" x="831" y="1286"/><use href="#g75" x="839" y="1286"/>
<use href="#g53" x="862" y="1284"/><use href="#g56" x="870" y="1284"/>
<polyline points="902.5,1192.5 902.5,1302.5"/>
<rect class="f" x="900" y="1220" width="5" height="5"/>
<rect class="f" x="900" y="1190" width="5" height="5"/>
<use href="#g54" x="753" y="1204"/>
<use href="#g53" x="753" y="1224"/>
<use href="#g55" x="804" y="1214"/>
<use href="#g84" x="786" y="1235"/><use href="#g53" x="794" y="1235"/>
<use href="#g50" x="753" y="1284"/>
<use href="#g51" x="753" y="1304"/>
<use href="#g49" x="804" y="1294"/>
<use href="#g84" x="786" y="1315"/><use href="#g53" x="794" y="1315"/>
<use href="#g50" x="877" y="1231"/><use href="#g48" x="885" y="1231"/><use href="#g100" x="893" y="1231"/><use href="#g66" x="901" y="1231"/>
<polyline points="146.5,1342.5 148.5,1346.5 152.5,1337.5 156.5,1346.5 160.5,1337.5 164.5,1346.5 168.5,1337.5 170.5,1342.5"/>
<use href="#g55" x="151" y="1326"/><use href="#g46" x="159" y="1326"/><use href="#g53" x="167" y="1326"/><use href="#g75" x="175" y="1326"/>
<polyline points="306.5,1342.5 308.5,1346.5 312.5,1337.5 316.5,1346.5 320.5,1337.5 324.5,1346.5 328.5,1337.5 330.5,1342.5"/>
<use href="#g82" x="305" y="1326"/><use href="#g54" x="313" y="1326"/><use href="#g57" x="321" y="1326"/>
<use href="#g49" x="298" y="1357"/><use href="#g48" x="306" y="1357"/><use href="#g75" x="314" y="1357"/>
<polyline points="486.5,1342.5 488.5,1346.5 492.5,1337.5 496.5,1346.5 500.5,1337.5 504.5,1346.5 508.5,1337.5 510.5,1342.5"/>
<use href="#g82" x="485" y="1326"/><use href="#g54" x="493" y="1326"/><use href="#g54" x="501" y="1326"/>
<use href="#g49" x="478" y="1357"/><use href="#g48" x="486" y="1357"/><use href="#g75" x="494" y="1357"/>
<polyline points="656.5,1342.5 658.5,1346.5 662.5,1337.5 666.5,1346.5 670.5,1337.5 674.5,1346.5 678.5,1337.5 680.5,1342.5"/>
<use href="#g82" x="655" y="1326"/><use href="#g54" x="663" y="1326"/><use href="#g49" x="671" y="1326"/>
<use href="#g49" x="648" y="1357"/><use href="#g53" x="656" y="1357"/><use href="#g75" x="664" y="1357"/>
<polyline points="826.5,1342.5 828.5,1346.5 832.5,1337.5 836.5,1346.5 840.5,1337.5 844.5,1346.5 848.5,1337.5 850.5,1342.5"/>
<use href="#g82" x="825" y="1326"/><use href="#g54" x="833" y="1326"/><use href="#g48" x="841" y="1326"/>
<use href="#g49" x="818" y="1357"/><use href="#g75" x="826" y="1357"/>
<use href="#g102" x="813" y="1404"/><use href="#g114" x="821" y="1404"/><use href="#g111" x="829" y="1404"/><use href="#g109" x="837" y="1404"/><use href="#g99" x="853" y="1404"/><use href="#g104" x="861" y="1404"/><use href="#g50" x="869" y="1404"/>
<use href="#g102" x="842" y="1434"/><use href="#g114" x="850" y="1434"/><use href="#g111" x="858" y="1434"/><use href="#g109" x="866" y="1434"/><use href="#g99" x="882" y="1434"/><use href="#g104" x="890" y="1434"/><use href="#g49" x="898" y="1434"/>
<polygon points="652.5,1422.5 657.5,1417.5 682.5,1417.5 682.5,1427.5 657.5,1427.5"/>
<use href="#g67" x="659" y="1419"/><use href="#g49" x="667" y="1419"/>
<polyline points="892.5,1532.5 902.5,1532.5"/>
<polyline points="902.5,1522.5 902.5,1552.5 943.5,1552.5"/>
<circle cx="905.5" cy="1532.5" r="3"/>
<polyline points="908.5,1531.5 916.5,1528.5"/>
<polyline points="921.5,1524.5 923.5,1522.5 932.5,1522.5"/>
<circle cx="919.5" cy="1527.5" r="3"/>
<circle cx="919.5" cy="1537.5" r="3"/>
<polyline points="922.5,1533.5 922.5,1542.5"/>
<polyline points="912.5,1542.5 932.5,1542.5"/>
<use href="#g102" x="342" y="1574"/><use href="#g114" x="350" y="1574"/><use href="#g111" x="358" y="1574"/><use href="#g109" x="366" y="1574"/><use href="#g99" x="382" y="1574"/><use href="#g104" x="390" y="1574"/><use href="#g50" x="398" y="1574"/>
<use href="#g102" x="342" y="1644"/><use href="#g114" x="350" y="1644"/><use href="#g111" x="358" y="1644"/><use href="#g109" x="366" y="1644"/><use href="#g99" x="382" y="1644"/><use href="#g104" x="390" y="1644"/><use href="#g49" x="398" y="1644"/>
<polyline points="422.5,1572.5 752.5,1572.5"/>
<rect class="f" x="440" y="1570" width="5" height="5"/>
<rect class="f" x="460" y="1570" width="5" height="5"/>
<polyline points="442.5,1572.5 442.5,1672.5 495.5,1672.5 495.5,1670.5"/>
<polyline points="462.5,1572.5 462.5,1612.5 495.5,1612.5 495.5,1610.5"/>
<polyline points="472.5,1652.5 472.5,1592.5 495.5,1592.5 495.5,1594.5"/>
<rect class="f" x="470" y="1650" width="5" height="5"/>
<polyline points="422.5,1652.5 495.5,1652.5 495.5,1654.5"/>
<circle cx="495.5" cy="1597.5" r="3"/>
<circle cx="495.5" cy="1607.5" r="3"/>
<circle cx="509.5" cy="1602.5" r="3"/>
<polyline points="498.5,1598.5 506.5,1601.5"/>
<rect class="f" x="499" y="1598" width="2" height="2"/>
<circle cx="495.5" cy="1657.5" r="3"/>
<circle cx="495.5" cy="1667.5" r="3"/>
<circle cx="509.5" cy="1662.5" r="3"/>
<polyline points="498.5,1658.5 506.5,1661.5"/>
<rect class="f" x="499" y="1658" width="2" height="2"/>
<polyline points="512.5,1602.5 732.5,1602.5"/>
<polyline points="512.5,1662.5 572.5,1662.5 572.5,1752.5"/>
<polyline points="752.5,1572.5 752.5,1652.5 815.5,1652.5 815.5,1654.5"/>
<polyline points="732.5,1602.5 732.5,1672.5 815.5,1672.5 815.5,1670.5"/>
<circle cx="815.5" cy="1657.5" r="3"/>
<circle cx="815.5" cy="1667.5" r="3"/>
<circle cx="829.5" cy="1662.5" r="3"/>
<polyline points="818.5,1658.5 826.5,1661.5"/>
<rect class="f" x="819" y="1657" width="2" height="2"/>
<polyline points="832.5,1662.5 892.5,1662.5 892.5,1752.5"/>
<use href="#g99" x="512" y="1744"/><use href="#g111" x="520" y="1744"/><use href="#g110" x="528" y="1744"/><use href="#g116" x="536" y="1744"/><use href="#g95" x="544" y="1744"/><use href="#g49" x="552" y="1744"/>
<use href="#g99" x="872" y="1764"/><use href="#g111" x="880" y="1764"/><use href="#g110" x="888" y="1764"/><use href="#g116" x="896" y="1764"/><use href="#g95" x="904" y="1764"/><use href="#g50" x="912" y="1764"/>
</svg>
</body></html>
